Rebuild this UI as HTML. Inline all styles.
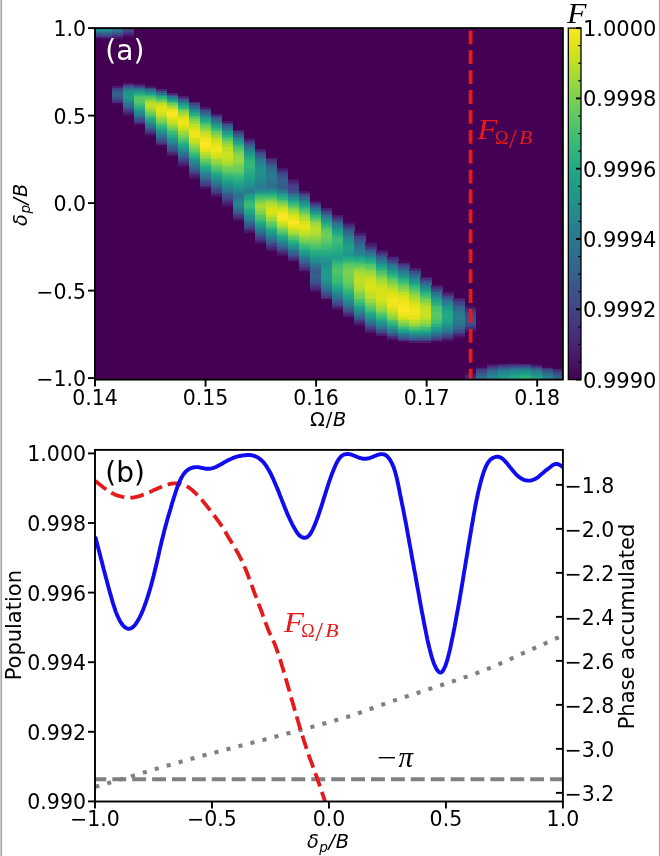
<!DOCTYPE html><html><head><meta charset="utf-8"><title>Figure</title><style>html,body{margin:0;padding:0;background:#fff}svg{display:block}</style></head><body><svg width="660" height="856" viewBox="0 0 660 856"><rect x="95.0" y="28.1" width="467.90" height="351.50" fill="#440154"/>
<g shape-rendering="crispEdges">
<rect x="95.00" y="28.10" width="5.82" height="1.95" fill="#1f958b"/>
<rect x="95.00" y="29.85" width="5.82" height="1.95" fill="#24868e"/>
<rect x="95.00" y="31.60" width="5.82" height="1.95" fill="#2c738e"/>
<rect x="95.00" y="33.35" width="5.82" height="1.95" fill="#375a8c"/>
<rect x="95.00" y="35.10" width="5.82" height="1.95" fill="#433e85"/>
<rect x="95.00" y="36.85" width="5.82" height="1.95" fill="#471063"/>
<rect x="100.52" y="28.10" width="11.33" height="1.95" fill="#21918c"/>
<rect x="100.52" y="29.85" width="11.33" height="1.95" fill="#24868e"/>
<rect x="100.52" y="31.60" width="11.33" height="1.95" fill="#2c738e"/>
<rect x="100.52" y="33.35" width="11.33" height="1.95" fill="#355f8d"/>
<rect x="100.52" y="35.10" width="11.33" height="1.95" fill="#414487"/>
<rect x="100.52" y="36.85" width="11.33" height="1.95" fill="#481d6f"/>
<rect x="111.55" y="28.10" width="11.33" height="1.95" fill="#2a788e"/>
<rect x="111.55" y="29.85" width="11.33" height="1.95" fill="#2e6f8e"/>
<rect x="111.55" y="31.60" width="11.33" height="1.95" fill="#355f8d"/>
<rect x="111.55" y="33.35" width="11.33" height="1.95" fill="#3c4f8a"/>
<rect x="111.55" y="35.10" width="11.33" height="1.95" fill="#46307e"/>
<rect x="111.55" y="36.85" width="11.33" height="1.95" fill="#481769"/>
<rect x="111.55" y="85.85" width="11.33" height="1.95" fill="#481d6f"/>
<rect x="111.55" y="87.60" width="11.33" height="1.95" fill="#453781"/>
<rect x="111.55" y="89.35" width="11.33" height="1.95" fill="#3e4989"/>
<rect x="111.55" y="91.10" width="11.33" height="1.95" fill="#3a548c"/>
<rect x="111.55" y="92.85" width="11.33" height="3.70" fill="#355f8d"/>
<rect x="111.55" y="96.35" width="11.33" height="1.95" fill="#3a548c"/>
<rect x="111.55" y="98.10" width="11.33" height="1.95" fill="#3e4989"/>
<rect x="111.55" y="99.85" width="11.33" height="1.95" fill="#453781"/>
<rect x="111.55" y="101.60" width="11.33" height="1.95" fill="#482475"/>
<rect x="111.55" y="103.35" width="11.33" height="1.95" fill="#46085c"/>
<rect x="122.58" y="28.10" width="11.33" height="1.95" fill="#3e4989"/>
<rect x="122.58" y="29.85" width="11.33" height="1.95" fill="#414487"/>
<rect x="122.58" y="31.60" width="11.33" height="1.95" fill="#453781"/>
<rect x="122.58" y="33.35" width="11.33" height="1.95" fill="#482475"/>
<rect x="122.58" y="35.10" width="11.33" height="1.95" fill="#471063"/>
<rect x="122.58" y="82.35" width="11.33" height="1.95" fill="#46085c"/>
<rect x="122.58" y="84.10" width="11.33" height="1.95" fill="#453781"/>
<rect x="122.58" y="85.85" width="11.33" height="1.95" fill="#375a8c"/>
<rect x="122.58" y="87.60" width="11.33" height="1.95" fill="#2e6f8e"/>
<rect x="122.58" y="89.35" width="11.33" height="1.95" fill="#26828e"/>
<rect x="122.58" y="91.10" width="11.33" height="1.95" fill="#21918c"/>
<rect x="122.58" y="92.85" width="11.33" height="5.45" fill="#1f9a8a"/>
<rect x="122.58" y="98.10" width="11.33" height="1.95" fill="#1f958b"/>
<rect x="122.58" y="99.85" width="11.33" height="1.95" fill="#228b8d"/>
<rect x="122.58" y="101.60" width="11.33" height="1.95" fill="#26828e"/>
<rect x="122.58" y="103.35" width="11.33" height="1.95" fill="#2c738e"/>
<rect x="122.58" y="105.10" width="11.33" height="1.95" fill="#306a8e"/>
<rect x="122.58" y="106.85" width="11.33" height="1.95" fill="#375a8c"/>
<rect x="122.58" y="108.60" width="11.33" height="1.95" fill="#3e4989"/>
<rect x="122.58" y="110.35" width="11.33" height="1.95" fill="#453781"/>
<rect x="122.58" y="112.10" width="11.33" height="1.95" fill="#482475"/>
<rect x="122.58" y="113.85" width="11.33" height="1.95" fill="#471063"/>
<rect x="133.60" y="84.10" width="11.33" height="1.95" fill="#481d6f"/>
<rect x="133.60" y="85.85" width="11.33" height="1.95" fill="#3e4989"/>
<rect x="133.60" y="87.60" width="11.33" height="1.95" fill="#306a8e"/>
<rect x="133.60" y="89.35" width="11.33" height="1.95" fill="#26828e"/>
<rect x="133.60" y="91.10" width="11.33" height="1.95" fill="#1f9a8a"/>
<rect x="133.60" y="92.85" width="11.33" height="1.95" fill="#26ad81"/>
<rect x="133.60" y="94.60" width="11.33" height="1.95" fill="#3bbb75"/>
<rect x="133.60" y="96.35" width="11.33" height="1.95" fill="#4ec36b"/>
<rect x="133.60" y="98.10" width="11.33" height="5.45" fill="#58c765"/>
<rect x="133.60" y="103.35" width="11.33" height="1.95" fill="#44bf70"/>
<rect x="133.60" y="105.10" width="11.33" height="1.95" fill="#32b67a"/>
<rect x="133.60" y="106.85" width="11.33" height="1.95" fill="#26ad81"/>
<rect x="133.60" y="108.60" width="11.33" height="1.95" fill="#20a386"/>
<rect x="133.60" y="110.35" width="11.33" height="1.95" fill="#1f958b"/>
<rect x="133.60" y="112.10" width="11.33" height="1.95" fill="#228b8d"/>
<rect x="133.60" y="113.85" width="11.33" height="1.95" fill="#287d8e"/>
<rect x="133.60" y="115.60" width="11.33" height="1.95" fill="#2e6f8e"/>
<rect x="133.60" y="117.35" width="11.33" height="1.95" fill="#355f8d"/>
<rect x="133.60" y="119.10" width="11.33" height="1.95" fill="#3e4989"/>
<rect x="133.60" y="120.85" width="11.33" height="1.95" fill="#453781"/>
<rect x="133.60" y="122.60" width="11.33" height="1.95" fill="#481d6f"/>
<rect x="133.60" y="124.35" width="11.33" height="1.95" fill="#46085c"/>
<rect x="144.63" y="85.85" width="11.33" height="1.95" fill="#481769"/>
<rect x="144.63" y="87.60" width="11.33" height="1.95" fill="#414487"/>
<rect x="144.63" y="89.35" width="11.33" height="1.95" fill="#306a8e"/>
<rect x="144.63" y="91.10" width="11.33" height="1.95" fill="#24868e"/>
<rect x="144.63" y="92.85" width="11.33" height="1.95" fill="#1f9f88"/>
<rect x="144.63" y="94.60" width="11.33" height="1.95" fill="#32b67a"/>
<rect x="144.63" y="96.35" width="11.33" height="1.95" fill="#4ec36b"/>
<rect x="144.63" y="98.10" width="11.33" height="1.95" fill="#6ece58"/>
<rect x="144.63" y="99.85" width="11.33" height="1.95" fill="#95d840"/>
<rect x="144.63" y="101.60" width="11.33" height="1.95" fill="#b0dd2f"/>
<rect x="144.63" y="103.35" width="11.33" height="3.70" fill="#bddf26"/>
<rect x="144.63" y="106.85" width="11.33" height="1.95" fill="#b0dd2f"/>
<rect x="144.63" y="108.60" width="11.33" height="1.95" fill="#a2da37"/>
<rect x="144.63" y="110.35" width="11.33" height="1.95" fill="#86d549"/>
<rect x="144.63" y="112.10" width="11.33" height="1.95" fill="#6ece58"/>
<rect x="144.63" y="113.85" width="11.33" height="1.95" fill="#58c765"/>
<rect x="144.63" y="115.60" width="11.33" height="1.95" fill="#44bf70"/>
<rect x="144.63" y="117.35" width="11.33" height="1.95" fill="#2cb17e"/>
<rect x="144.63" y="119.10" width="11.33" height="1.95" fill="#22a884"/>
<rect x="144.63" y="120.85" width="11.33" height="1.95" fill="#1f9a8a"/>
<rect x="144.63" y="122.60" width="11.33" height="1.95" fill="#228b8d"/>
<rect x="144.63" y="124.35" width="11.33" height="1.95" fill="#287d8e"/>
<rect x="144.63" y="126.10" width="11.33" height="1.95" fill="#2e6f8e"/>
<rect x="144.63" y="127.85" width="11.33" height="1.95" fill="#375a8c"/>
<rect x="144.63" y="129.60" width="11.33" height="1.95" fill="#3e4989"/>
<rect x="144.63" y="131.35" width="11.33" height="1.95" fill="#453781"/>
<rect x="144.63" y="133.10" width="11.33" height="1.95" fill="#481d6f"/>
<rect x="144.63" y="134.85" width="11.33" height="1.95" fill="#46085c"/>
<rect x="155.66" y="89.35" width="11.33" height="1.95" fill="#482475"/>
<rect x="155.66" y="91.10" width="11.33" height="1.95" fill="#3a548c"/>
<rect x="155.66" y="92.85" width="11.33" height="1.95" fill="#2c738e"/>
<rect x="155.66" y="94.60" width="11.33" height="1.95" fill="#21918c"/>
<rect x="155.66" y="96.35" width="11.33" height="1.95" fill="#26ad81"/>
<rect x="155.66" y="98.10" width="11.33" height="1.95" fill="#44bf70"/>
<rect x="155.66" y="99.85" width="11.33" height="1.95" fill="#6ece58"/>
<rect x="155.66" y="101.60" width="11.33" height="1.95" fill="#95d840"/>
<rect x="155.66" y="103.35" width="11.33" height="1.95" fill="#bddf26"/>
<rect x="155.66" y="105.10" width="11.33" height="1.95" fill="#d8e219"/>
<rect x="155.66" y="106.85" width="11.33" height="5.45" fill="#e5e419"/>
<rect x="155.66" y="112.10" width="11.33" height="1.95" fill="#d8e219"/>
<rect x="155.66" y="113.85" width="11.33" height="1.95" fill="#cae11f"/>
<rect x="155.66" y="115.60" width="11.33" height="1.95" fill="#b0dd2f"/>
<rect x="155.66" y="117.35" width="11.33" height="1.95" fill="#a2da37"/>
<rect x="155.66" y="119.10" width="11.33" height="1.95" fill="#86d549"/>
<rect x="155.66" y="120.85" width="11.33" height="1.95" fill="#6ece58"/>
<rect x="155.66" y="122.60" width="11.33" height="1.95" fill="#58c765"/>
<rect x="155.66" y="124.35" width="11.33" height="1.95" fill="#44bf70"/>
<rect x="155.66" y="126.10" width="11.33" height="1.95" fill="#2cb17e"/>
<rect x="155.66" y="127.85" width="11.33" height="1.95" fill="#22a884"/>
<rect x="155.66" y="129.60" width="11.33" height="1.95" fill="#1f9a8a"/>
<rect x="155.66" y="131.35" width="11.33" height="1.95" fill="#21918c"/>
<rect x="155.66" y="133.10" width="11.33" height="1.95" fill="#26828e"/>
<rect x="155.66" y="134.85" width="11.33" height="1.95" fill="#2c738e"/>
<rect x="155.66" y="136.60" width="11.33" height="1.95" fill="#306a8e"/>
<rect x="155.66" y="138.35" width="11.33" height="1.95" fill="#375a8c"/>
<rect x="155.66" y="140.10" width="11.33" height="1.95" fill="#3e4989"/>
<rect x="155.66" y="141.85" width="11.33" height="1.95" fill="#453781"/>
<rect x="155.66" y="143.60" width="11.33" height="1.95" fill="#482475"/>
<rect x="155.66" y="145.35" width="11.33" height="1.95" fill="#46085c"/>
<rect x="166.69" y="92.85" width="11.33" height="1.95" fill="#482475"/>
<rect x="166.69" y="94.60" width="11.33" height="1.95" fill="#3c4f8a"/>
<rect x="166.69" y="96.35" width="11.33" height="1.95" fill="#2c738e"/>
<rect x="166.69" y="98.10" width="11.33" height="1.95" fill="#21918c"/>
<rect x="166.69" y="99.85" width="11.33" height="1.95" fill="#22a884"/>
<rect x="166.69" y="101.60" width="11.33" height="1.95" fill="#44bf70"/>
<rect x="166.69" y="103.35" width="11.33" height="1.95" fill="#6ece58"/>
<rect x="166.69" y="105.10" width="11.33" height="1.95" fill="#95d840"/>
<rect x="166.69" y="106.85" width="11.33" height="1.95" fill="#bddf26"/>
<rect x="166.69" y="108.60" width="11.33" height="1.95" fill="#d8e219"/>
<rect x="166.69" y="110.35" width="11.33" height="1.95" fill="#f1e51d"/>
<rect x="166.69" y="112.10" width="11.33" height="3.70" fill="#fde725"/>
<rect x="166.69" y="115.60" width="11.33" height="1.95" fill="#f1e51d"/>
<rect x="166.69" y="117.35" width="11.33" height="1.95" fill="#e5e419"/>
<rect x="166.69" y="119.10" width="11.33" height="1.95" fill="#d8e219"/>
<rect x="166.69" y="120.85" width="11.33" height="1.95" fill="#cae11f"/>
<rect x="166.69" y="122.60" width="11.33" height="1.95" fill="#b0dd2f"/>
<rect x="166.69" y="124.35" width="11.33" height="1.95" fill="#a2da37"/>
<rect x="166.69" y="126.10" width="11.33" height="1.95" fill="#86d549"/>
<rect x="166.69" y="127.85" width="11.33" height="1.95" fill="#6ece58"/>
<rect x="166.69" y="129.60" width="11.33" height="1.95" fill="#58c765"/>
<rect x="166.69" y="131.35" width="11.33" height="1.95" fill="#44bf70"/>
<rect x="166.69" y="133.10" width="11.33" height="1.95" fill="#32b67a"/>
<rect x="166.69" y="134.85" width="11.33" height="1.95" fill="#26ad81"/>
<rect x="166.69" y="136.60" width="11.33" height="1.95" fill="#20a386"/>
<rect x="166.69" y="138.35" width="11.33" height="1.95" fill="#1f9a8a"/>
<rect x="166.69" y="140.10" width="11.33" height="1.95" fill="#228b8d"/>
<rect x="166.69" y="141.85" width="11.33" height="1.95" fill="#26828e"/>
<rect x="166.69" y="143.60" width="11.33" height="1.95" fill="#2c738e"/>
<rect x="166.69" y="145.35" width="11.33" height="1.95" fill="#306a8e"/>
<rect x="166.69" y="147.10" width="11.33" height="1.95" fill="#375a8c"/>
<rect x="166.69" y="148.85" width="11.33" height="1.95" fill="#3c4f8a"/>
<rect x="166.69" y="150.60" width="11.33" height="1.95" fill="#433e85"/>
<rect x="166.69" y="152.35" width="11.33" height="1.95" fill="#472a7a"/>
<rect x="166.69" y="154.10" width="11.33" height="1.95" fill="#481769"/>
<rect x="177.72" y="96.35" width="11.33" height="1.95" fill="#481d6f"/>
<rect x="177.72" y="98.10" width="11.33" height="1.95" fill="#414487"/>
<rect x="177.72" y="99.85" width="11.33" height="1.95" fill="#32648e"/>
<rect x="177.72" y="101.60" width="11.33" height="1.95" fill="#287d8e"/>
<rect x="177.72" y="103.35" width="11.33" height="1.95" fill="#21918c"/>
<rect x="177.72" y="105.10" width="11.33" height="1.95" fill="#22a884"/>
<rect x="177.72" y="106.85" width="11.33" height="1.95" fill="#32b67a"/>
<rect x="177.72" y="108.60" width="11.33" height="1.95" fill="#58c765"/>
<rect x="177.72" y="110.35" width="11.33" height="1.95" fill="#7ad151"/>
<rect x="177.72" y="112.10" width="11.33" height="1.95" fill="#95d840"/>
<rect x="177.72" y="113.85" width="11.33" height="1.95" fill="#b0dd2f"/>
<rect x="177.72" y="115.60" width="11.33" height="1.95" fill="#cae11f"/>
<rect x="177.72" y="117.35" width="11.33" height="1.95" fill="#d8e219"/>
<rect x="177.72" y="119.10" width="11.33" height="1.95" fill="#e5e419"/>
<rect x="177.72" y="120.85" width="11.33" height="3.70" fill="#f1e51d"/>
<rect x="177.72" y="124.35" width="11.33" height="1.95" fill="#e5e419"/>
<rect x="177.72" y="126.10" width="11.33" height="1.95" fill="#d8e219"/>
<rect x="177.72" y="127.85" width="11.33" height="1.95" fill="#cae11f"/>
<rect x="177.72" y="129.60" width="11.33" height="1.95" fill="#bddf26"/>
<rect x="177.72" y="131.35" width="11.33" height="1.95" fill="#a2da37"/>
<rect x="177.72" y="133.10" width="11.33" height="1.95" fill="#95d840"/>
<rect x="177.72" y="134.85" width="11.33" height="1.95" fill="#7ad151"/>
<rect x="177.72" y="136.60" width="11.33" height="1.95" fill="#6ece58"/>
<rect x="177.72" y="138.35" width="11.33" height="1.95" fill="#58c765"/>
<rect x="177.72" y="140.10" width="11.33" height="1.95" fill="#44bf70"/>
<rect x="177.72" y="141.85" width="11.33" height="1.95" fill="#32b67a"/>
<rect x="177.72" y="143.60" width="11.33" height="1.95" fill="#26ad81"/>
<rect x="177.72" y="145.35" width="11.33" height="1.95" fill="#20a386"/>
<rect x="177.72" y="147.10" width="11.33" height="1.95" fill="#1f9a8a"/>
<rect x="177.72" y="148.85" width="11.33" height="1.95" fill="#228b8d"/>
<rect x="177.72" y="150.60" width="11.33" height="1.95" fill="#26828e"/>
<rect x="177.72" y="152.35" width="11.33" height="1.95" fill="#2a788e"/>
<rect x="177.72" y="154.10" width="11.33" height="1.95" fill="#306a8e"/>
<rect x="177.72" y="155.85" width="11.33" height="1.95" fill="#355f8d"/>
<rect x="177.72" y="157.60" width="11.33" height="1.95" fill="#3c4f8a"/>
<rect x="177.72" y="159.35" width="11.33" height="1.95" fill="#414487"/>
<rect x="177.72" y="161.10" width="11.33" height="1.95" fill="#46307e"/>
<rect x="177.72" y="162.85" width="11.33" height="1.95" fill="#482475"/>
<rect x="177.72" y="164.60" width="11.33" height="1.95" fill="#471063"/>
<rect x="188.75" y="101.60" width="11.33" height="1.95" fill="#482475"/>
<rect x="188.75" y="103.35" width="11.33" height="1.95" fill="#414487"/>
<rect x="188.75" y="105.10" width="11.33" height="1.95" fill="#375a8c"/>
<rect x="188.75" y="106.85" width="11.33" height="1.95" fill="#2e6f8e"/>
<rect x="188.75" y="108.60" width="11.33" height="1.95" fill="#26828e"/>
<rect x="188.75" y="110.35" width="11.33" height="1.95" fill="#21918c"/>
<rect x="188.75" y="112.10" width="11.33" height="1.95" fill="#20a386"/>
<rect x="188.75" y="113.85" width="11.33" height="1.95" fill="#2cb17e"/>
<rect x="188.75" y="115.60" width="11.33" height="1.95" fill="#44bf70"/>
<rect x="188.75" y="117.35" width="11.33" height="1.95" fill="#58c765"/>
<rect x="188.75" y="119.10" width="11.33" height="1.95" fill="#7ad151"/>
<rect x="188.75" y="120.85" width="11.33" height="1.95" fill="#95d840"/>
<rect x="188.75" y="122.60" width="11.33" height="1.95" fill="#a2da37"/>
<rect x="188.75" y="124.35" width="11.33" height="1.95" fill="#bddf26"/>
<rect x="188.75" y="126.10" width="11.33" height="1.95" fill="#cae11f"/>
<rect x="188.75" y="127.85" width="11.33" height="1.95" fill="#d8e219"/>
<rect x="188.75" y="129.60" width="11.33" height="1.95" fill="#e5e419"/>
<rect x="188.75" y="131.35" width="11.33" height="5.45" fill="#f1e51d"/>
<rect x="188.75" y="136.60" width="11.33" height="1.95" fill="#e5e419"/>
<rect x="188.75" y="138.35" width="11.33" height="1.95" fill="#d8e219"/>
<rect x="188.75" y="140.10" width="11.33" height="1.95" fill="#cae11f"/>
<rect x="188.75" y="141.85" width="11.33" height="1.95" fill="#bddf26"/>
<rect x="188.75" y="143.60" width="11.33" height="1.95" fill="#a2da37"/>
<rect x="188.75" y="145.35" width="11.33" height="1.95" fill="#95d840"/>
<rect x="188.75" y="147.10" width="11.33" height="1.95" fill="#7ad151"/>
<rect x="188.75" y="148.85" width="11.33" height="1.95" fill="#63cb5f"/>
<rect x="188.75" y="150.60" width="11.33" height="1.95" fill="#58c765"/>
<rect x="188.75" y="152.35" width="11.33" height="1.95" fill="#44bf70"/>
<rect x="188.75" y="154.10" width="11.33" height="1.95" fill="#32b67a"/>
<rect x="188.75" y="155.85" width="11.33" height="1.95" fill="#26ad81"/>
<rect x="188.75" y="157.60" width="11.33" height="1.95" fill="#20a386"/>
<rect x="188.75" y="159.35" width="11.33" height="1.95" fill="#1f958b"/>
<rect x="188.75" y="161.10" width="11.33" height="1.95" fill="#228b8d"/>
<rect x="188.75" y="162.85" width="11.33" height="1.95" fill="#26828e"/>
<rect x="188.75" y="164.60" width="11.33" height="1.95" fill="#2a788e"/>
<rect x="188.75" y="166.35" width="11.33" height="1.95" fill="#306a8e"/>
<rect x="188.75" y="168.10" width="11.33" height="1.95" fill="#355f8d"/>
<rect x="188.75" y="169.85" width="11.33" height="1.95" fill="#3c4f8a"/>
<rect x="188.75" y="171.60" width="11.33" height="1.95" fill="#414487"/>
<rect x="188.75" y="173.35" width="11.33" height="1.95" fill="#46307e"/>
<rect x="188.75" y="175.10" width="11.33" height="1.95" fill="#481d6f"/>
<rect x="188.75" y="176.85" width="11.33" height="1.95" fill="#471063"/>
<rect x="199.78" y="106.85" width="11.33" height="1.95" fill="#481769"/>
<rect x="199.78" y="108.60" width="11.33" height="1.95" fill="#46307e"/>
<rect x="199.78" y="110.35" width="11.33" height="1.95" fill="#3c4f8a"/>
<rect x="199.78" y="112.10" width="11.33" height="1.95" fill="#355f8d"/>
<rect x="199.78" y="113.85" width="11.33" height="1.95" fill="#2c738e"/>
<rect x="199.78" y="115.60" width="11.33" height="1.95" fill="#24868e"/>
<rect x="199.78" y="117.35" width="11.33" height="1.95" fill="#1f958b"/>
<rect x="199.78" y="119.10" width="11.33" height="1.95" fill="#20a386"/>
<rect x="199.78" y="120.85" width="11.33" height="1.95" fill="#2cb17e"/>
<rect x="199.78" y="122.60" width="11.33" height="1.95" fill="#3bbb75"/>
<rect x="199.78" y="124.35" width="11.33" height="1.95" fill="#58c765"/>
<rect x="199.78" y="126.10" width="11.33" height="1.95" fill="#6ece58"/>
<rect x="199.78" y="127.85" width="11.33" height="1.95" fill="#86d549"/>
<rect x="199.78" y="129.60" width="11.33" height="1.95" fill="#a2da37"/>
<rect x="199.78" y="131.35" width="11.33" height="1.95" fill="#b0dd2f"/>
<rect x="199.78" y="133.10" width="11.33" height="1.95" fill="#cae11f"/>
<rect x="199.78" y="134.85" width="11.33" height="1.95" fill="#d8e219"/>
<rect x="199.78" y="136.60" width="11.33" height="1.95" fill="#e5e419"/>
<rect x="199.78" y="138.35" width="11.33" height="3.70" fill="#f1e51d"/>
<rect x="199.78" y="141.85" width="11.33" height="5.45" fill="#fde725"/>
<rect x="199.78" y="147.10" width="11.33" height="1.95" fill="#f1e51d"/>
<rect x="199.78" y="148.85" width="11.33" height="1.95" fill="#e5e419"/>
<rect x="199.78" y="150.60" width="11.33" height="1.95" fill="#d8e219"/>
<rect x="199.78" y="152.35" width="11.33" height="1.95" fill="#bddf26"/>
<rect x="199.78" y="154.10" width="11.33" height="1.95" fill="#b0dd2f"/>
<rect x="199.78" y="155.85" width="11.33" height="1.95" fill="#95d840"/>
<rect x="199.78" y="157.60" width="11.33" height="1.95" fill="#86d549"/>
<rect x="199.78" y="159.35" width="11.33" height="1.95" fill="#6ece58"/>
<rect x="199.78" y="161.10" width="11.33" height="1.95" fill="#58c765"/>
<rect x="199.78" y="162.85" width="11.33" height="1.95" fill="#44bf70"/>
<rect x="199.78" y="164.60" width="11.33" height="1.95" fill="#32b67a"/>
<rect x="199.78" y="166.35" width="11.33" height="1.95" fill="#26ad81"/>
<rect x="199.78" y="168.10" width="11.33" height="1.95" fill="#20a386"/>
<rect x="199.78" y="169.85" width="11.33" height="1.95" fill="#1f9a8a"/>
<rect x="199.78" y="171.60" width="11.33" height="1.95" fill="#21918c"/>
<rect x="199.78" y="173.35" width="11.33" height="1.95" fill="#26828e"/>
<rect x="199.78" y="175.10" width="11.33" height="1.95" fill="#2a788e"/>
<rect x="199.78" y="176.85" width="11.33" height="1.95" fill="#2e6f8e"/>
<rect x="199.78" y="178.60" width="11.33" height="1.95" fill="#355f8d"/>
<rect x="199.78" y="180.35" width="11.33" height="1.95" fill="#3a548c"/>
<rect x="199.78" y="182.10" width="11.33" height="1.95" fill="#414487"/>
<rect x="199.78" y="183.85" width="11.33" height="1.95" fill="#453781"/>
<rect x="199.78" y="185.60" width="11.33" height="1.95" fill="#482475"/>
<rect x="199.78" y="187.35" width="11.33" height="1.95" fill="#471063"/>
<rect x="210.81" y="113.85" width="11.33" height="1.95" fill="#481d6f"/>
<rect x="210.81" y="115.60" width="11.33" height="1.95" fill="#433e85"/>
<rect x="210.81" y="117.35" width="11.33" height="1.95" fill="#3a548c"/>
<rect x="210.81" y="119.10" width="11.33" height="1.95" fill="#306a8e"/>
<rect x="210.81" y="120.85" width="11.33" height="1.95" fill="#2a788e"/>
<rect x="210.81" y="122.60" width="11.33" height="1.95" fill="#228b8d"/>
<rect x="210.81" y="124.35" width="11.33" height="1.95" fill="#1f9a8a"/>
<rect x="210.81" y="126.10" width="11.33" height="1.95" fill="#22a884"/>
<rect x="210.81" y="127.85" width="11.33" height="1.95" fill="#32b67a"/>
<rect x="210.81" y="129.60" width="11.33" height="1.95" fill="#44bf70"/>
<rect x="210.81" y="131.35" width="11.33" height="1.95" fill="#63cb5f"/>
<rect x="210.81" y="133.10" width="11.33" height="1.95" fill="#7ad151"/>
<rect x="210.81" y="134.85" width="11.33" height="1.95" fill="#95d840"/>
<rect x="210.81" y="136.60" width="11.33" height="1.95" fill="#a2da37"/>
<rect x="210.81" y="138.35" width="11.33" height="1.95" fill="#bddf26"/>
<rect x="210.81" y="140.10" width="11.33" height="1.95" fill="#cae11f"/>
<rect x="210.81" y="141.85" width="11.33" height="1.95" fill="#d8e219"/>
<rect x="210.81" y="143.60" width="11.33" height="3.70" fill="#e5e419"/>
<rect x="210.81" y="147.10" width="11.33" height="5.45" fill="#f1e51d"/>
<rect x="210.81" y="152.35" width="11.33" height="1.95" fill="#e5e419"/>
<rect x="210.81" y="154.10" width="11.33" height="1.95" fill="#d8e219"/>
<rect x="210.81" y="155.85" width="11.33" height="1.95" fill="#cae11f"/>
<rect x="210.81" y="157.60" width="11.33" height="1.95" fill="#bddf26"/>
<rect x="210.81" y="159.35" width="11.33" height="1.95" fill="#a2da37"/>
<rect x="210.81" y="161.10" width="11.33" height="1.95" fill="#95d840"/>
<rect x="210.81" y="162.85" width="11.33" height="1.95" fill="#86d549"/>
<rect x="210.81" y="164.60" width="11.33" height="1.95" fill="#6ece58"/>
<rect x="210.81" y="166.35" width="11.33" height="1.95" fill="#58c765"/>
<rect x="210.81" y="168.10" width="11.33" height="1.95" fill="#4ec36b"/>
<rect x="210.81" y="169.85" width="11.33" height="1.95" fill="#3bbb75"/>
<rect x="210.81" y="171.60" width="11.33" height="1.95" fill="#2cb17e"/>
<rect x="210.81" y="173.35" width="11.33" height="1.95" fill="#22a884"/>
<rect x="210.81" y="175.10" width="11.33" height="1.95" fill="#1f9f88"/>
<rect x="210.81" y="176.85" width="11.33" height="1.95" fill="#1f958b"/>
<rect x="210.81" y="178.60" width="11.33" height="1.95" fill="#228b8d"/>
<rect x="210.81" y="180.35" width="11.33" height="1.95" fill="#26828e"/>
<rect x="210.81" y="182.10" width="11.33" height="1.95" fill="#2a788e"/>
<rect x="210.81" y="183.85" width="11.33" height="1.95" fill="#2e6f8e"/>
<rect x="210.81" y="185.60" width="11.33" height="1.95" fill="#32648e"/>
<rect x="210.81" y="187.35" width="11.33" height="1.95" fill="#3a548c"/>
<rect x="210.81" y="189.10" width="11.33" height="1.95" fill="#3e4989"/>
<rect x="210.81" y="190.85" width="11.33" height="1.95" fill="#433e85"/>
<rect x="210.81" y="192.60" width="11.33" height="1.95" fill="#472a7a"/>
<rect x="210.81" y="194.35" width="11.33" height="1.95" fill="#481d6f"/>
<rect x="210.81" y="196.10" width="11.33" height="1.95" fill="#46085c"/>
<rect x="221.84" y="120.85" width="11.33" height="1.95" fill="#481769"/>
<rect x="221.84" y="122.60" width="11.33" height="1.95" fill="#46307e"/>
<rect x="221.84" y="124.35" width="11.33" height="1.95" fill="#3c4f8a"/>
<rect x="221.84" y="126.10" width="11.33" height="1.95" fill="#32648e"/>
<rect x="221.84" y="127.85" width="11.33" height="1.95" fill="#2c738e"/>
<rect x="221.84" y="129.60" width="11.33" height="1.95" fill="#24868e"/>
<rect x="221.84" y="131.35" width="11.33" height="1.95" fill="#1f958b"/>
<rect x="221.84" y="133.10" width="11.33" height="1.95" fill="#20a386"/>
<rect x="221.84" y="134.85" width="11.33" height="1.95" fill="#2cb17e"/>
<rect x="221.84" y="136.60" width="11.33" height="1.95" fill="#3bbb75"/>
<rect x="221.84" y="138.35" width="11.33" height="1.95" fill="#58c765"/>
<rect x="221.84" y="140.10" width="11.33" height="1.95" fill="#6ece58"/>
<rect x="221.84" y="141.85" width="11.33" height="1.95" fill="#86d549"/>
<rect x="221.84" y="143.60" width="11.33" height="1.95" fill="#95d840"/>
<rect x="221.84" y="145.35" width="11.33" height="1.95" fill="#a2da37"/>
<rect x="221.84" y="147.10" width="11.33" height="3.70" fill="#bddf26"/>
<rect x="221.84" y="150.60" width="11.33" height="7.20" fill="#cae11f"/>
<rect x="221.84" y="157.60" width="11.33" height="3.70" fill="#bddf26"/>
<rect x="221.84" y="161.10" width="11.33" height="1.95" fill="#b0dd2f"/>
<rect x="221.84" y="162.85" width="11.33" height="1.95" fill="#a2da37"/>
<rect x="221.84" y="164.60" width="11.33" height="1.95" fill="#95d840"/>
<rect x="221.84" y="166.35" width="11.33" height="1.95" fill="#7ad151"/>
<rect x="221.84" y="168.10" width="11.33" height="1.95" fill="#6ece58"/>
<rect x="221.84" y="169.85" width="11.33" height="1.95" fill="#63cb5f"/>
<rect x="221.84" y="171.60" width="11.33" height="1.95" fill="#4ec36b"/>
<rect x="221.84" y="173.35" width="11.33" height="1.95" fill="#44bf70"/>
<rect x="221.84" y="175.10" width="11.33" height="1.95" fill="#32b67a"/>
<rect x="221.84" y="176.85" width="11.33" height="1.95" fill="#2cb17e"/>
<rect x="221.84" y="178.60" width="11.33" height="1.95" fill="#22a884"/>
<rect x="221.84" y="180.35" width="11.33" height="1.95" fill="#20a386"/>
<rect x="221.84" y="182.10" width="11.33" height="1.95" fill="#1f9a8a"/>
<rect x="221.84" y="183.85" width="11.33" height="1.95" fill="#21918c"/>
<rect x="221.84" y="185.60" width="11.33" height="1.95" fill="#24868e"/>
<rect x="221.84" y="187.35" width="11.33" height="1.95" fill="#26828e"/>
<rect x="221.84" y="189.10" width="11.33" height="1.95" fill="#2a788e"/>
<rect x="221.84" y="190.85" width="11.33" height="1.95" fill="#2e6f8e"/>
<rect x="221.84" y="192.60" width="11.33" height="1.95" fill="#32648e"/>
<rect x="221.84" y="194.35" width="11.33" height="1.95" fill="#375a8c"/>
<rect x="221.84" y="196.10" width="11.33" height="1.95" fill="#3c4f8a"/>
<rect x="221.84" y="197.85" width="11.33" height="1.95" fill="#414487"/>
<rect x="221.84" y="199.60" width="11.33" height="1.95" fill="#453781"/>
<rect x="221.84" y="201.35" width="11.33" height="1.95" fill="#472a7a"/>
<rect x="221.84" y="203.10" width="11.33" height="1.95" fill="#481d6f"/>
<rect x="221.84" y="204.85" width="11.33" height="1.95" fill="#471063"/>
<rect x="232.88" y="129.60" width="11.33" height="1.95" fill="#481d6f"/>
<rect x="232.88" y="131.35" width="11.33" height="1.95" fill="#453781"/>
<rect x="232.88" y="133.10" width="11.33" height="1.95" fill="#3c4f8a"/>
<rect x="232.88" y="134.85" width="11.33" height="1.95" fill="#32648e"/>
<rect x="232.88" y="136.60" width="11.33" height="1.95" fill="#2a788e"/>
<rect x="232.88" y="138.35" width="11.33" height="1.95" fill="#24868e"/>
<rect x="232.88" y="140.10" width="11.33" height="1.95" fill="#1f958b"/>
<rect x="232.88" y="141.85" width="11.33" height="1.95" fill="#20a386"/>
<rect x="232.88" y="143.60" width="11.33" height="1.95" fill="#26ad81"/>
<rect x="232.88" y="145.35" width="11.33" height="1.95" fill="#3bbb75"/>
<rect x="232.88" y="147.10" width="11.33" height="1.95" fill="#4ec36b"/>
<rect x="232.88" y="148.85" width="11.33" height="1.95" fill="#58c765"/>
<rect x="232.88" y="150.60" width="11.33" height="1.95" fill="#6ece58"/>
<rect x="232.88" y="152.35" width="11.33" height="1.95" fill="#7ad151"/>
<rect x="232.88" y="154.10" width="11.33" height="1.95" fill="#86d549"/>
<rect x="232.88" y="155.85" width="11.33" height="7.20" fill="#95d840"/>
<rect x="232.88" y="162.85" width="11.33" height="1.95" fill="#86d549"/>
<rect x="232.88" y="164.60" width="11.33" height="1.95" fill="#7ad151"/>
<rect x="232.88" y="166.35" width="11.33" height="3.70" fill="#6ece58"/>
<rect x="232.88" y="169.85" width="11.33" height="1.95" fill="#63cb5f"/>
<rect x="232.88" y="171.60" width="11.33" height="1.95" fill="#58c765"/>
<rect x="232.88" y="173.35" width="11.33" height="1.95" fill="#4ec36b"/>
<rect x="232.88" y="175.10" width="11.33" height="1.95" fill="#3bbb75"/>
<rect x="232.88" y="176.85" width="11.33" height="1.95" fill="#32b67a"/>
<rect x="232.88" y="178.60" width="11.33" height="1.95" fill="#2cb17e"/>
<rect x="232.88" y="180.35" width="11.33" height="1.95" fill="#26ad81"/>
<rect x="232.88" y="182.10" width="11.33" height="1.95" fill="#20a386"/>
<rect x="232.88" y="183.85" width="11.33" height="1.95" fill="#1f9f88"/>
<rect x="232.88" y="185.60" width="11.33" height="1.95" fill="#1f9a8a"/>
<rect x="232.88" y="187.35" width="11.33" height="1.95" fill="#21918c"/>
<rect x="232.88" y="189.10" width="11.33" height="1.95" fill="#228b8d"/>
<rect x="232.88" y="190.85" width="11.33" height="1.95" fill="#26828e"/>
<rect x="232.88" y="192.60" width="11.33" height="1.95" fill="#2a788e"/>
<rect x="232.88" y="194.35" width="11.33" height="1.95" fill="#2c738e"/>
<rect x="232.88" y="196.10" width="11.33" height="1.95" fill="#2e6f8e"/>
<rect x="232.88" y="197.85" width="11.33" height="1.95" fill="#2a788e"/>
<rect x="232.88" y="199.60" width="11.33" height="1.95" fill="#287d8e"/>
<rect x="232.88" y="201.35" width="11.33" height="5.45" fill="#26828e"/>
<rect x="232.88" y="206.60" width="11.33" height="1.95" fill="#2a788e"/>
<rect x="232.88" y="208.35" width="11.33" height="1.95" fill="#2e6f8e"/>
<rect x="232.88" y="210.10" width="11.33" height="1.95" fill="#32648e"/>
<rect x="232.88" y="211.85" width="11.33" height="1.95" fill="#375a8c"/>
<rect x="232.88" y="213.60" width="11.33" height="1.95" fill="#3e4989"/>
<rect x="232.88" y="215.35" width="11.33" height="1.95" fill="#453781"/>
<rect x="232.88" y="217.10" width="11.33" height="1.95" fill="#482475"/>
<rect x="232.88" y="218.85" width="11.33" height="1.95" fill="#471063"/>
<rect x="243.91" y="138.35" width="11.33" height="1.95" fill="#471063"/>
<rect x="243.91" y="140.10" width="11.33" height="1.95" fill="#472a7a"/>
<rect x="243.91" y="141.85" width="11.33" height="1.95" fill="#414487"/>
<rect x="243.91" y="143.60" width="11.33" height="1.95" fill="#3a548c"/>
<rect x="243.91" y="145.35" width="11.33" height="1.95" fill="#32648e"/>
<rect x="243.91" y="147.10" width="11.33" height="1.95" fill="#2c738e"/>
<rect x="243.91" y="148.85" width="11.33" height="1.95" fill="#26828e"/>
<rect x="243.91" y="150.60" width="11.33" height="1.95" fill="#228b8d"/>
<rect x="243.91" y="152.35" width="11.33" height="1.95" fill="#1f958b"/>
<rect x="243.91" y="154.10" width="11.33" height="1.95" fill="#1f9f88"/>
<rect x="243.91" y="155.85" width="11.33" height="1.95" fill="#22a884"/>
<rect x="243.91" y="157.60" width="11.33" height="1.95" fill="#26ad81"/>
<rect x="243.91" y="159.35" width="11.33" height="1.95" fill="#2cb17e"/>
<rect x="243.91" y="161.10" width="11.33" height="7.20" fill="#32b67a"/>
<rect x="243.91" y="168.10" width="11.33" height="3.70" fill="#2cb17e"/>
<rect x="243.91" y="171.60" width="11.33" height="1.95" fill="#26ad81"/>
<rect x="243.91" y="173.35" width="11.33" height="3.70" fill="#22a884"/>
<rect x="243.91" y="176.85" width="11.33" height="1.95" fill="#20a386"/>
<rect x="243.91" y="178.60" width="11.33" height="1.95" fill="#1f9f88"/>
<rect x="243.91" y="180.35" width="11.33" height="1.95" fill="#1f9a8a"/>
<rect x="243.91" y="182.10" width="11.33" height="1.95" fill="#1f958b"/>
<rect x="243.91" y="183.85" width="11.33" height="1.95" fill="#21918c"/>
<rect x="243.91" y="185.60" width="11.33" height="1.95" fill="#228b8d"/>
<rect x="243.91" y="187.35" width="11.33" height="1.95" fill="#24868e"/>
<rect x="243.91" y="189.10" width="11.33" height="1.95" fill="#26828e"/>
<rect x="243.91" y="190.85" width="11.33" height="1.95" fill="#287d8e"/>
<rect x="243.91" y="192.60" width="11.33" height="1.95" fill="#24868e"/>
<rect x="243.91" y="194.35" width="11.33" height="1.95" fill="#1f958b"/>
<rect x="243.91" y="196.10" width="11.33" height="1.95" fill="#1f9f88"/>
<rect x="243.91" y="197.85" width="11.33" height="1.95" fill="#22a884"/>
<rect x="243.91" y="199.60" width="11.33" height="1.95" fill="#2cb17e"/>
<rect x="243.91" y="201.35" width="11.33" height="1.95" fill="#32b67a"/>
<rect x="243.91" y="203.10" width="11.33" height="3.70" fill="#3bbb75"/>
<rect x="243.91" y="206.60" width="11.33" height="1.95" fill="#32b67a"/>
<rect x="243.91" y="208.35" width="11.33" height="1.95" fill="#2cb17e"/>
<rect x="243.91" y="210.10" width="11.33" height="1.95" fill="#22a884"/>
<rect x="243.91" y="211.85" width="11.33" height="1.95" fill="#20a386"/>
<rect x="243.91" y="213.60" width="11.33" height="1.95" fill="#1f9a8a"/>
<rect x="243.91" y="215.35" width="11.33" height="1.95" fill="#21918c"/>
<rect x="243.91" y="217.10" width="11.33" height="1.95" fill="#24868e"/>
<rect x="243.91" y="218.85" width="11.33" height="1.95" fill="#287d8e"/>
<rect x="243.91" y="220.60" width="11.33" height="1.95" fill="#2c738e"/>
<rect x="243.91" y="222.35" width="11.33" height="1.95" fill="#32648e"/>
<rect x="243.91" y="224.10" width="11.33" height="1.95" fill="#375a8c"/>
<rect x="243.91" y="225.85" width="11.33" height="1.95" fill="#3e4989"/>
<rect x="243.91" y="227.60" width="11.33" height="1.95" fill="#433e85"/>
<rect x="243.91" y="229.35" width="11.33" height="1.95" fill="#472a7a"/>
<rect x="243.91" y="231.10" width="11.33" height="1.95" fill="#481769"/>
<rect x="254.94" y="148.85" width="11.33" height="1.95" fill="#481d6f"/>
<rect x="254.94" y="150.60" width="11.33" height="1.95" fill="#46307e"/>
<rect x="254.94" y="152.35" width="11.33" height="1.95" fill="#414487"/>
<rect x="254.94" y="154.10" width="11.33" height="1.95" fill="#3a548c"/>
<rect x="254.94" y="155.85" width="11.33" height="1.95" fill="#355f8d"/>
<rect x="254.94" y="157.60" width="11.33" height="1.95" fill="#2e6f8e"/>
<rect x="254.94" y="159.35" width="11.33" height="1.95" fill="#2a788e"/>
<rect x="254.94" y="161.10" width="11.33" height="1.95" fill="#287d8e"/>
<rect x="254.94" y="162.85" width="11.33" height="1.95" fill="#26828e"/>
<rect x="254.94" y="164.60" width="11.33" height="3.70" fill="#228b8d"/>
<rect x="254.94" y="168.10" width="11.33" height="7.20" fill="#21918c"/>
<rect x="254.94" y="175.10" width="11.33" height="3.70" fill="#228b8d"/>
<rect x="254.94" y="178.60" width="11.33" height="3.70" fill="#24868e"/>
<rect x="254.94" y="182.10" width="11.33" height="1.95" fill="#26828e"/>
<rect x="254.94" y="183.85" width="11.33" height="3.70" fill="#287d8e"/>
<rect x="254.94" y="187.35" width="11.33" height="1.95" fill="#2a788e"/>
<rect x="254.94" y="189.10" width="11.33" height="1.95" fill="#24868e"/>
<rect x="254.94" y="190.85" width="11.33" height="1.95" fill="#1f958b"/>
<rect x="254.94" y="192.60" width="11.33" height="1.95" fill="#20a386"/>
<rect x="254.94" y="194.35" width="11.33" height="1.95" fill="#2cb17e"/>
<rect x="254.94" y="196.10" width="11.33" height="1.95" fill="#44bf70"/>
<rect x="254.94" y="197.85" width="11.33" height="1.95" fill="#58c765"/>
<rect x="254.94" y="199.60" width="11.33" height="1.95" fill="#6ece58"/>
<rect x="254.94" y="201.35" width="11.33" height="1.95" fill="#7ad151"/>
<rect x="254.94" y="203.10" width="11.33" height="1.95" fill="#95d840"/>
<rect x="254.94" y="204.85" width="11.33" height="3.70" fill="#a2da37"/>
<rect x="254.94" y="208.35" width="11.33" height="1.95" fill="#95d840"/>
<rect x="254.94" y="210.10" width="11.33" height="1.95" fill="#86d549"/>
<rect x="254.94" y="211.85" width="11.33" height="1.95" fill="#7ad151"/>
<rect x="254.94" y="213.60" width="11.33" height="1.95" fill="#6ece58"/>
<rect x="254.94" y="215.35" width="11.33" height="1.95" fill="#58c765"/>
<rect x="254.94" y="217.10" width="11.33" height="1.95" fill="#4ec36b"/>
<rect x="254.94" y="218.85" width="11.33" height="1.95" fill="#3bbb75"/>
<rect x="254.94" y="220.60" width="11.33" height="1.95" fill="#2cb17e"/>
<rect x="254.94" y="222.35" width="11.33" height="1.95" fill="#22a884"/>
<rect x="254.94" y="224.10" width="11.33" height="1.95" fill="#1f9f88"/>
<rect x="254.94" y="225.85" width="11.33" height="1.95" fill="#21918c"/>
<rect x="254.94" y="227.60" width="11.33" height="1.95" fill="#24868e"/>
<rect x="254.94" y="229.35" width="11.33" height="1.95" fill="#287d8e"/>
<rect x="254.94" y="231.10" width="11.33" height="1.95" fill="#2e6f8e"/>
<rect x="254.94" y="232.85" width="11.33" height="1.95" fill="#32648e"/>
<rect x="254.94" y="234.60" width="11.33" height="1.95" fill="#3a548c"/>
<rect x="254.94" y="236.35" width="11.33" height="1.95" fill="#3e4989"/>
<rect x="254.94" y="238.10" width="11.33" height="1.95" fill="#453781"/>
<rect x="254.94" y="239.85" width="11.33" height="1.95" fill="#482475"/>
<rect x="254.94" y="241.60" width="11.33" height="1.95" fill="#471063"/>
<rect x="265.97" y="157.60" width="11.33" height="1.95" fill="#481d6f"/>
<rect x="265.97" y="159.35" width="11.33" height="1.95" fill="#46307e"/>
<rect x="265.97" y="161.10" width="11.33" height="1.95" fill="#433e85"/>
<rect x="265.97" y="162.85" width="11.33" height="1.95" fill="#3c4f8a"/>
<rect x="265.97" y="164.60" width="11.33" height="1.95" fill="#375a8c"/>
<rect x="265.97" y="166.35" width="11.33" height="1.95" fill="#32648e"/>
<rect x="265.97" y="168.10" width="11.33" height="1.95" fill="#306a8e"/>
<rect x="265.97" y="169.85" width="11.33" height="3.70" fill="#2c738e"/>
<rect x="265.97" y="173.35" width="11.33" height="7.20" fill="#2a788e"/>
<rect x="265.97" y="180.35" width="11.33" height="3.70" fill="#2c738e"/>
<rect x="265.97" y="183.85" width="11.33" height="3.70" fill="#2e6f8e"/>
<rect x="265.97" y="187.35" width="11.33" height="1.95" fill="#2c738e"/>
<rect x="265.97" y="189.10" width="11.33" height="1.95" fill="#24868e"/>
<rect x="265.97" y="190.85" width="11.33" height="1.95" fill="#1f958b"/>
<rect x="265.97" y="192.60" width="11.33" height="1.95" fill="#20a386"/>
<rect x="265.97" y="194.35" width="11.33" height="1.95" fill="#2cb17e"/>
<rect x="265.97" y="196.10" width="11.33" height="1.95" fill="#44bf70"/>
<rect x="265.97" y="197.85" width="11.33" height="1.95" fill="#63cb5f"/>
<rect x="265.97" y="199.60" width="11.33" height="1.95" fill="#7ad151"/>
<rect x="265.97" y="201.35" width="11.33" height="1.95" fill="#95d840"/>
<rect x="265.97" y="203.10" width="11.33" height="1.95" fill="#b0dd2f"/>
<rect x="265.97" y="204.85" width="11.33" height="1.95" fill="#bddf26"/>
<rect x="265.97" y="206.60" width="11.33" height="1.95" fill="#cae11f"/>
<rect x="265.97" y="208.35" width="11.33" height="5.45" fill="#d8e219"/>
<rect x="265.97" y="213.60" width="11.33" height="1.95" fill="#cae11f"/>
<rect x="265.97" y="215.35" width="11.33" height="1.95" fill="#bddf26"/>
<rect x="265.97" y="217.10" width="11.33" height="1.95" fill="#a2da37"/>
<rect x="265.97" y="218.85" width="11.33" height="1.95" fill="#95d840"/>
<rect x="265.97" y="220.60" width="11.33" height="1.95" fill="#7ad151"/>
<rect x="265.97" y="222.35" width="11.33" height="1.95" fill="#63cb5f"/>
<rect x="265.97" y="224.10" width="11.33" height="1.95" fill="#58c765"/>
<rect x="265.97" y="225.85" width="11.33" height="1.95" fill="#44bf70"/>
<rect x="265.97" y="227.60" width="11.33" height="1.95" fill="#32b67a"/>
<rect x="265.97" y="229.35" width="11.33" height="1.95" fill="#22a884"/>
<rect x="265.97" y="231.10" width="11.33" height="1.95" fill="#1f9f88"/>
<rect x="265.97" y="232.85" width="11.33" height="1.95" fill="#1f958b"/>
<rect x="265.97" y="234.60" width="11.33" height="1.95" fill="#228b8d"/>
<rect x="265.97" y="236.35" width="11.33" height="1.95" fill="#287d8e"/>
<rect x="265.97" y="238.10" width="11.33" height="1.95" fill="#2c738e"/>
<rect x="265.97" y="239.85" width="11.33" height="1.95" fill="#32648e"/>
<rect x="265.97" y="241.60" width="11.33" height="1.95" fill="#375a8c"/>
<rect x="265.97" y="243.35" width="11.33" height="1.95" fill="#3e4989"/>
<rect x="265.97" y="245.10" width="11.33" height="1.95" fill="#453781"/>
<rect x="265.97" y="246.85" width="11.33" height="1.95" fill="#482475"/>
<rect x="265.97" y="248.60" width="11.33" height="1.95" fill="#481769"/>
<rect x="277.00" y="168.10" width="11.33" height="1.95" fill="#481769"/>
<rect x="277.00" y="169.85" width="11.33" height="1.95" fill="#472a7a"/>
<rect x="277.00" y="171.60" width="11.33" height="1.95" fill="#453781"/>
<rect x="277.00" y="173.35" width="11.33" height="1.95" fill="#3e4989"/>
<rect x="277.00" y="175.10" width="11.33" height="1.95" fill="#3c4f8a"/>
<rect x="277.00" y="176.85" width="11.33" height="1.95" fill="#375a8c"/>
<rect x="277.00" y="178.60" width="11.33" height="7.20" fill="#355f8d"/>
<rect x="277.00" y="185.60" width="11.33" height="3.70" fill="#375a8c"/>
<rect x="277.00" y="189.10" width="11.33" height="1.95" fill="#2e6f8e"/>
<rect x="277.00" y="190.85" width="11.33" height="1.95" fill="#287d8e"/>
<rect x="277.00" y="192.60" width="11.33" height="1.95" fill="#21918c"/>
<rect x="277.00" y="194.35" width="11.33" height="1.95" fill="#1f9f88"/>
<rect x="277.00" y="196.10" width="11.33" height="1.95" fill="#26ad81"/>
<rect x="277.00" y="197.85" width="11.33" height="1.95" fill="#32b67a"/>
<rect x="277.00" y="199.60" width="11.33" height="1.95" fill="#4ec36b"/>
<rect x="277.00" y="201.35" width="11.33" height="1.95" fill="#63cb5f"/>
<rect x="277.00" y="203.10" width="11.33" height="1.95" fill="#86d549"/>
<rect x="277.00" y="204.85" width="11.33" height="1.95" fill="#a2da37"/>
<rect x="277.00" y="206.60" width="11.33" height="1.95" fill="#bddf26"/>
<rect x="277.00" y="208.35" width="11.33" height="1.95" fill="#cae11f"/>
<rect x="277.00" y="210.10" width="11.33" height="1.95" fill="#d8e219"/>
<rect x="277.00" y="211.85" width="11.33" height="3.70" fill="#f1e51d"/>
<rect x="277.00" y="215.35" width="11.33" height="3.70" fill="#fde725"/>
<rect x="277.00" y="218.85" width="11.33" height="1.95" fill="#f1e51d"/>
<rect x="277.00" y="220.60" width="11.33" height="1.95" fill="#e5e419"/>
<rect x="277.00" y="222.35" width="11.33" height="1.95" fill="#cae11f"/>
<rect x="277.00" y="224.10" width="11.33" height="1.95" fill="#bddf26"/>
<rect x="277.00" y="225.85" width="11.33" height="1.95" fill="#a2da37"/>
<rect x="277.00" y="227.60" width="11.33" height="1.95" fill="#86d549"/>
<rect x="277.00" y="229.35" width="11.33" height="1.95" fill="#6ece58"/>
<rect x="277.00" y="231.10" width="11.33" height="1.95" fill="#58c765"/>
<rect x="277.00" y="232.85" width="11.33" height="1.95" fill="#44bf70"/>
<rect x="277.00" y="234.60" width="11.33" height="1.95" fill="#2cb17e"/>
<rect x="277.00" y="236.35" width="11.33" height="1.95" fill="#22a884"/>
<rect x="277.00" y="238.10" width="11.33" height="1.95" fill="#1f9f88"/>
<rect x="277.00" y="239.85" width="11.33" height="1.95" fill="#21918c"/>
<rect x="277.00" y="241.60" width="11.33" height="1.95" fill="#26828e"/>
<rect x="277.00" y="243.35" width="11.33" height="1.95" fill="#2a788e"/>
<rect x="277.00" y="245.10" width="11.33" height="1.95" fill="#306a8e"/>
<rect x="277.00" y="246.85" width="11.33" height="1.95" fill="#375a8c"/>
<rect x="277.00" y="248.60" width="11.33" height="1.95" fill="#3e4989"/>
<rect x="277.00" y="250.35" width="11.33" height="1.95" fill="#453781"/>
<rect x="277.00" y="252.10" width="11.33" height="1.95" fill="#482475"/>
<rect x="277.00" y="253.85" width="11.33" height="1.95" fill="#471063"/>
<rect x="288.02" y="178.60" width="11.33" height="1.95" fill="#471063"/>
<rect x="288.02" y="180.35" width="11.33" height="1.95" fill="#481d6f"/>
<rect x="288.02" y="182.10" width="11.33" height="1.95" fill="#472a7a"/>
<rect x="288.02" y="183.85" width="11.33" height="1.95" fill="#453781"/>
<rect x="288.02" y="185.60" width="11.33" height="1.95" fill="#433e85"/>
<rect x="288.02" y="187.35" width="11.33" height="3.70" fill="#414487"/>
<rect x="288.02" y="190.85" width="11.33" height="1.95" fill="#3c4f8a"/>
<rect x="288.02" y="192.60" width="11.33" height="1.95" fill="#32648e"/>
<rect x="288.02" y="194.35" width="11.33" height="1.95" fill="#2c738e"/>
<rect x="288.02" y="196.10" width="11.33" height="1.95" fill="#24868e"/>
<rect x="288.02" y="197.85" width="11.33" height="1.95" fill="#1f958b"/>
<rect x="288.02" y="199.60" width="11.33" height="1.95" fill="#1f9f88"/>
<rect x="288.02" y="201.35" width="11.33" height="1.95" fill="#26ad81"/>
<rect x="288.02" y="203.10" width="11.33" height="1.95" fill="#3bbb75"/>
<rect x="288.02" y="204.85" width="11.33" height="1.95" fill="#4ec36b"/>
<rect x="288.02" y="206.60" width="11.33" height="1.95" fill="#6ece58"/>
<rect x="288.02" y="208.35" width="11.33" height="1.95" fill="#86d549"/>
<rect x="288.02" y="210.10" width="11.33" height="1.95" fill="#a2da37"/>
<rect x="288.02" y="211.85" width="11.33" height="1.95" fill="#b0dd2f"/>
<rect x="288.02" y="213.60" width="11.33" height="1.95" fill="#cae11f"/>
<rect x="288.02" y="215.35" width="11.33" height="1.95" fill="#d8e219"/>
<rect x="288.02" y="217.10" width="11.33" height="1.95" fill="#e5e419"/>
<rect x="288.02" y="218.85" width="11.33" height="1.95" fill="#f1e51d"/>
<rect x="288.02" y="220.60" width="11.33" height="3.70" fill="#fde725"/>
<rect x="288.02" y="224.10" width="11.33" height="1.95" fill="#f1e51d"/>
<rect x="288.02" y="225.85" width="11.33" height="1.95" fill="#e5e419"/>
<rect x="288.02" y="227.60" width="11.33" height="1.95" fill="#d8e219"/>
<rect x="288.02" y="229.35" width="11.33" height="1.95" fill="#bddf26"/>
<rect x="288.02" y="231.10" width="11.33" height="1.95" fill="#b0dd2f"/>
<rect x="288.02" y="232.85" width="11.33" height="1.95" fill="#95d840"/>
<rect x="288.02" y="234.60" width="11.33" height="1.95" fill="#7ad151"/>
<rect x="288.02" y="236.35" width="11.33" height="1.95" fill="#63cb5f"/>
<rect x="288.02" y="238.10" width="11.33" height="1.95" fill="#4ec36b"/>
<rect x="288.02" y="239.85" width="11.33" height="1.95" fill="#32b67a"/>
<rect x="288.02" y="241.60" width="11.33" height="1.95" fill="#26ad81"/>
<rect x="288.02" y="243.35" width="11.33" height="1.95" fill="#20a386"/>
<rect x="288.02" y="245.10" width="11.33" height="1.95" fill="#1f958b"/>
<rect x="288.02" y="246.85" width="11.33" height="1.95" fill="#228b8d"/>
<rect x="288.02" y="248.60" width="11.33" height="1.95" fill="#287d8e"/>
<rect x="288.02" y="250.35" width="11.33" height="1.95" fill="#2e6f8e"/>
<rect x="288.02" y="252.10" width="11.33" height="1.95" fill="#355f8d"/>
<rect x="288.02" y="253.85" width="11.33" height="1.95" fill="#3a548c"/>
<rect x="288.02" y="255.60" width="11.33" height="1.95" fill="#414487"/>
<rect x="288.02" y="257.35" width="11.33" height="1.95" fill="#46307e"/>
<rect x="288.02" y="259.10" width="11.33" height="1.95" fill="#481d6f"/>
<rect x="299.05" y="190.85" width="11.33" height="1.95" fill="#481769"/>
<rect x="299.05" y="192.60" width="11.33" height="1.95" fill="#472a7a"/>
<rect x="299.05" y="194.35" width="11.33" height="1.95" fill="#414487"/>
<rect x="299.05" y="196.10" width="11.33" height="1.95" fill="#375a8c"/>
<rect x="299.05" y="197.85" width="11.33" height="1.95" fill="#306a8e"/>
<rect x="299.05" y="199.60" width="11.33" height="1.95" fill="#2a788e"/>
<rect x="299.05" y="201.35" width="11.33" height="1.95" fill="#24868e"/>
<rect x="299.05" y="203.10" width="11.33" height="1.95" fill="#1f958b"/>
<rect x="299.05" y="204.85" width="11.33" height="1.95" fill="#20a386"/>
<rect x="299.05" y="206.60" width="11.33" height="1.95" fill="#2cb17e"/>
<rect x="299.05" y="208.35" width="11.33" height="1.95" fill="#3bbb75"/>
<rect x="299.05" y="210.10" width="11.33" height="1.95" fill="#4ec36b"/>
<rect x="299.05" y="211.85" width="11.33" height="1.95" fill="#6ece58"/>
<rect x="299.05" y="213.60" width="11.33" height="1.95" fill="#86d549"/>
<rect x="299.05" y="215.35" width="11.33" height="1.95" fill="#95d840"/>
<rect x="299.05" y="217.10" width="11.33" height="1.95" fill="#b0dd2f"/>
<rect x="299.05" y="218.85" width="11.33" height="1.95" fill="#bddf26"/>
<rect x="299.05" y="220.60" width="11.33" height="3.70" fill="#d8e219"/>
<rect x="299.05" y="224.10" width="11.33" height="5.45" fill="#e5e419"/>
<rect x="299.05" y="229.35" width="11.33" height="1.95" fill="#d8e219"/>
<rect x="299.05" y="231.10" width="11.33" height="1.95" fill="#cae11f"/>
<rect x="299.05" y="232.85" width="11.33" height="1.95" fill="#bddf26"/>
<rect x="299.05" y="234.60" width="11.33" height="1.95" fill="#b0dd2f"/>
<rect x="299.05" y="236.35" width="11.33" height="1.95" fill="#a2da37"/>
<rect x="299.05" y="238.10" width="11.33" height="1.95" fill="#86d549"/>
<rect x="299.05" y="239.85" width="11.33" height="1.95" fill="#7ad151"/>
<rect x="299.05" y="241.60" width="11.33" height="1.95" fill="#63cb5f"/>
<rect x="299.05" y="243.35" width="11.33" height="1.95" fill="#4ec36b"/>
<rect x="299.05" y="245.10" width="11.33" height="1.95" fill="#3bbb75"/>
<rect x="299.05" y="246.85" width="11.33" height="1.95" fill="#32b67a"/>
<rect x="299.05" y="248.60" width="11.33" height="1.95" fill="#26ad81"/>
<rect x="299.05" y="250.35" width="11.33" height="1.95" fill="#20a386"/>
<rect x="299.05" y="252.10" width="11.33" height="1.95" fill="#1f9a8a"/>
<rect x="299.05" y="253.85" width="11.33" height="1.95" fill="#21918c"/>
<rect x="299.05" y="255.60" width="11.33" height="1.95" fill="#26828e"/>
<rect x="299.05" y="257.35" width="11.33" height="1.95" fill="#2a788e"/>
<rect x="299.05" y="259.10" width="11.33" height="1.95" fill="#2e6f8e"/>
<rect x="299.05" y="260.85" width="11.33" height="1.95" fill="#32648e"/>
<rect x="299.05" y="262.60" width="11.33" height="1.95" fill="#3a548c"/>
<rect x="299.05" y="264.35" width="11.33" height="1.95" fill="#3e4989"/>
<rect x="299.05" y="266.10" width="11.33" height="1.95" fill="#433e85"/>
<rect x="299.05" y="267.85" width="11.33" height="1.95" fill="#472a7a"/>
<rect x="299.05" y="269.60" width="11.33" height="1.95" fill="#481d6f"/>
<rect x="299.05" y="271.35" width="11.33" height="1.95" fill="#46085c"/>
<rect x="310.08" y="201.35" width="11.33" height="1.95" fill="#481769"/>
<rect x="310.08" y="203.10" width="11.33" height="1.95" fill="#453781"/>
<rect x="310.08" y="204.85" width="11.33" height="1.95" fill="#3c4f8a"/>
<rect x="310.08" y="206.60" width="11.33" height="1.95" fill="#32648e"/>
<rect x="310.08" y="208.35" width="11.33" height="1.95" fill="#2a788e"/>
<rect x="310.08" y="210.10" width="11.33" height="1.95" fill="#24868e"/>
<rect x="310.08" y="211.85" width="11.33" height="1.95" fill="#1f9a8a"/>
<rect x="310.08" y="213.60" width="11.33" height="1.95" fill="#22a884"/>
<rect x="310.08" y="215.35" width="11.33" height="1.95" fill="#32b67a"/>
<rect x="310.08" y="217.10" width="11.33" height="1.95" fill="#44bf70"/>
<rect x="310.08" y="218.85" width="11.33" height="1.95" fill="#63cb5f"/>
<rect x="310.08" y="220.60" width="11.33" height="1.95" fill="#7ad151"/>
<rect x="310.08" y="222.35" width="11.33" height="1.95" fill="#95d840"/>
<rect x="310.08" y="224.10" width="11.33" height="1.95" fill="#a2da37"/>
<rect x="310.08" y="225.85" width="11.33" height="1.95" fill="#b0dd2f"/>
<rect x="310.08" y="227.60" width="11.33" height="3.70" fill="#bddf26"/>
<rect x="310.08" y="231.10" width="11.33" height="3.70" fill="#b0dd2f"/>
<rect x="310.08" y="234.60" width="11.33" height="1.95" fill="#a2da37"/>
<rect x="310.08" y="236.35" width="11.33" height="1.95" fill="#95d840"/>
<rect x="310.08" y="238.10" width="11.33" height="1.95" fill="#86d549"/>
<rect x="310.08" y="239.85" width="11.33" height="1.95" fill="#7ad151"/>
<rect x="310.08" y="241.60" width="11.33" height="1.95" fill="#6ece58"/>
<rect x="310.08" y="243.35" width="11.33" height="1.95" fill="#63cb5f"/>
<rect x="310.08" y="245.10" width="11.33" height="1.95" fill="#4ec36b"/>
<rect x="310.08" y="246.85" width="11.33" height="1.95" fill="#44bf70"/>
<rect x="310.08" y="248.60" width="11.33" height="1.95" fill="#3bbb75"/>
<rect x="310.08" y="250.35" width="11.33" height="1.95" fill="#2cb17e"/>
<rect x="310.08" y="252.10" width="11.33" height="1.95" fill="#26ad81"/>
<rect x="310.08" y="253.85" width="11.33" height="1.95" fill="#20a386"/>
<rect x="310.08" y="255.60" width="11.33" height="1.95" fill="#1f9f88"/>
<rect x="310.08" y="257.35" width="11.33" height="1.95" fill="#1f958b"/>
<rect x="310.08" y="259.10" width="11.33" height="1.95" fill="#21918c"/>
<rect x="310.08" y="260.85" width="11.33" height="1.95" fill="#24868e"/>
<rect x="310.08" y="262.60" width="11.33" height="1.95" fill="#287d8e"/>
<rect x="310.08" y="264.35" width="11.33" height="1.95" fill="#2c738e"/>
<rect x="310.08" y="266.10" width="11.33" height="1.95" fill="#2e6f8e"/>
<rect x="310.08" y="267.85" width="11.33" height="1.95" fill="#32648e"/>
<rect x="310.08" y="269.60" width="11.33" height="3.70" fill="#375a8c"/>
<rect x="310.08" y="273.10" width="11.33" height="5.45" fill="#355f8d"/>
<rect x="310.08" y="278.35" width="11.33" height="1.95" fill="#375a8c"/>
<rect x="310.08" y="280.10" width="11.33" height="1.95" fill="#3a548c"/>
<rect x="310.08" y="281.85" width="11.33" height="1.95" fill="#3c4f8a"/>
<rect x="310.08" y="283.60" width="11.33" height="1.95" fill="#414487"/>
<rect x="310.08" y="285.35" width="11.33" height="1.95" fill="#453781"/>
<rect x="310.08" y="287.10" width="11.33" height="1.95" fill="#472a7a"/>
<rect x="310.08" y="288.85" width="11.33" height="1.95" fill="#481d6f"/>
<rect x="310.08" y="290.60" width="11.33" height="1.95" fill="#46085c"/>
<rect x="321.12" y="208.35" width="11.33" height="1.95" fill="#481d6f"/>
<rect x="321.12" y="210.10" width="11.33" height="1.95" fill="#453781"/>
<rect x="321.12" y="211.85" width="11.33" height="1.95" fill="#3c4f8a"/>
<rect x="321.12" y="213.60" width="11.33" height="1.95" fill="#355f8d"/>
<rect x="321.12" y="215.35" width="11.33" height="1.95" fill="#2c738e"/>
<rect x="321.12" y="217.10" width="11.33" height="1.95" fill="#26828e"/>
<rect x="321.12" y="218.85" width="11.33" height="1.95" fill="#21918c"/>
<rect x="321.12" y="220.60" width="11.33" height="1.95" fill="#1f9a8a"/>
<rect x="321.12" y="222.35" width="11.33" height="1.95" fill="#22a884"/>
<rect x="321.12" y="224.10" width="11.33" height="1.95" fill="#2cb17e"/>
<rect x="321.12" y="225.85" width="11.33" height="1.95" fill="#3bbb75"/>
<rect x="321.12" y="227.60" width="11.33" height="1.95" fill="#4ec36b"/>
<rect x="321.12" y="229.35" width="11.33" height="1.95" fill="#58c765"/>
<rect x="321.12" y="231.10" width="11.33" height="1.95" fill="#63cb5f"/>
<rect x="321.12" y="232.85" width="11.33" height="5.45" fill="#6ece58"/>
<rect x="321.12" y="238.10" width="11.33" height="1.95" fill="#63cb5f"/>
<rect x="321.12" y="239.85" width="11.33" height="3.70" fill="#58c765"/>
<rect x="321.12" y="243.35" width="11.33" height="1.95" fill="#4ec36b"/>
<rect x="321.12" y="245.10" width="11.33" height="1.95" fill="#44bf70"/>
<rect x="321.12" y="246.85" width="11.33" height="1.95" fill="#3bbb75"/>
<rect x="321.12" y="248.60" width="11.33" height="1.95" fill="#32b67a"/>
<rect x="321.12" y="250.35" width="11.33" height="1.95" fill="#2cb17e"/>
<rect x="321.12" y="252.10" width="11.33" height="1.95" fill="#26ad81"/>
<rect x="321.12" y="253.85" width="11.33" height="1.95" fill="#22a884"/>
<rect x="321.12" y="255.60" width="11.33" height="1.95" fill="#20a386"/>
<rect x="321.12" y="257.35" width="11.33" height="1.95" fill="#1f9a8a"/>
<rect x="321.12" y="259.10" width="11.33" height="1.95" fill="#1f958b"/>
<rect x="321.12" y="260.85" width="11.33" height="1.95" fill="#21918c"/>
<rect x="321.12" y="262.60" width="11.33" height="1.95" fill="#24868e"/>
<rect x="321.12" y="264.35" width="11.33" height="1.95" fill="#21918c"/>
<rect x="321.12" y="266.10" width="11.33" height="1.95" fill="#1f958b"/>
<rect x="321.12" y="267.85" width="11.33" height="10.70" fill="#1f9a8a"/>
<rect x="321.12" y="278.35" width="11.33" height="1.95" fill="#1f958b"/>
<rect x="321.12" y="280.10" width="11.33" height="1.95" fill="#21918c"/>
<rect x="321.12" y="281.85" width="11.33" height="1.95" fill="#228b8d"/>
<rect x="321.12" y="283.60" width="11.33" height="1.95" fill="#26828e"/>
<rect x="321.12" y="285.35" width="11.33" height="1.95" fill="#287d8e"/>
<rect x="321.12" y="287.10" width="11.33" height="1.95" fill="#2c738e"/>
<rect x="321.12" y="288.85" width="11.33" height="1.95" fill="#306a8e"/>
<rect x="321.12" y="290.60" width="11.33" height="1.95" fill="#355f8d"/>
<rect x="321.12" y="292.35" width="11.33" height="1.95" fill="#3a548c"/>
<rect x="321.12" y="294.10" width="11.33" height="1.95" fill="#414487"/>
<rect x="321.12" y="295.85" width="11.33" height="1.95" fill="#453781"/>
<rect x="321.12" y="297.60" width="11.33" height="1.95" fill="#482475"/>
<rect x="321.12" y="299.35" width="11.33" height="1.95" fill="#46085c"/>
<rect x="332.14" y="215.35" width="11.33" height="1.95" fill="#481d6f"/>
<rect x="332.14" y="217.10" width="11.33" height="1.95" fill="#46307e"/>
<rect x="332.14" y="218.85" width="11.33" height="1.95" fill="#3e4989"/>
<rect x="332.14" y="220.60" width="11.33" height="1.95" fill="#375a8c"/>
<rect x="332.14" y="222.35" width="11.33" height="1.95" fill="#306a8e"/>
<rect x="332.14" y="224.10" width="11.33" height="1.95" fill="#2a788e"/>
<rect x="332.14" y="225.85" width="11.33" height="1.95" fill="#26828e"/>
<rect x="332.14" y="227.60" width="11.33" height="1.95" fill="#228b8d"/>
<rect x="332.14" y="229.35" width="11.33" height="1.95" fill="#1f9a8a"/>
<rect x="332.14" y="231.10" width="11.33" height="1.95" fill="#20a386"/>
<rect x="332.14" y="232.85" width="11.33" height="1.95" fill="#22a884"/>
<rect x="332.14" y="234.60" width="11.33" height="1.95" fill="#2cb17e"/>
<rect x="332.14" y="236.35" width="11.33" height="1.95" fill="#32b67a"/>
<rect x="332.14" y="238.10" width="11.33" height="5.45" fill="#3bbb75"/>
<rect x="332.14" y="243.35" width="11.33" height="3.70" fill="#32b67a"/>
<rect x="332.14" y="246.85" width="11.33" height="3.70" fill="#2cb17e"/>
<rect x="332.14" y="250.35" width="11.33" height="1.95" fill="#26ad81"/>
<rect x="332.14" y="252.10" width="11.33" height="1.95" fill="#22a884"/>
<rect x="332.14" y="253.85" width="11.33" height="1.95" fill="#20a386"/>
<rect x="332.14" y="255.60" width="11.33" height="3.70" fill="#1f9f88"/>
<rect x="332.14" y="259.10" width="11.33" height="1.95" fill="#22a884"/>
<rect x="332.14" y="260.85" width="11.33" height="1.95" fill="#2cb17e"/>
<rect x="332.14" y="262.60" width="11.33" height="1.95" fill="#32b67a"/>
<rect x="332.14" y="264.35" width="11.33" height="1.95" fill="#3bbb75"/>
<rect x="332.14" y="266.10" width="11.33" height="1.95" fill="#44bf70"/>
<rect x="332.14" y="267.85" width="11.33" height="7.20" fill="#4ec36b"/>
<rect x="332.14" y="274.85" width="11.33" height="3.70" fill="#44bf70"/>
<rect x="332.14" y="278.35" width="11.33" height="3.70" fill="#3bbb75"/>
<rect x="332.14" y="281.85" width="11.33" height="1.95" fill="#32b67a"/>
<rect x="332.14" y="283.60" width="11.33" height="1.95" fill="#2cb17e"/>
<rect x="332.14" y="285.35" width="11.33" height="1.95" fill="#26ad81"/>
<rect x="332.14" y="287.10" width="11.33" height="1.95" fill="#20a386"/>
<rect x="332.14" y="288.85" width="11.33" height="1.95" fill="#1f9f88"/>
<rect x="332.14" y="290.60" width="11.33" height="1.95" fill="#1f958b"/>
<rect x="332.14" y="292.35" width="11.33" height="1.95" fill="#228b8d"/>
<rect x="332.14" y="294.10" width="11.33" height="1.95" fill="#26828e"/>
<rect x="332.14" y="295.85" width="11.33" height="1.95" fill="#2a788e"/>
<rect x="332.14" y="297.60" width="11.33" height="1.95" fill="#2e6f8e"/>
<rect x="332.14" y="299.35" width="11.33" height="1.95" fill="#32648e"/>
<rect x="332.14" y="301.10" width="11.33" height="1.95" fill="#3a548c"/>
<rect x="332.14" y="302.85" width="11.33" height="1.95" fill="#3e4989"/>
<rect x="332.14" y="304.60" width="11.33" height="1.95" fill="#453781"/>
<rect x="332.14" y="306.35" width="11.33" height="1.95" fill="#482475"/>
<rect x="332.14" y="308.10" width="11.33" height="1.95" fill="#471063"/>
<rect x="343.17" y="222.35" width="11.33" height="1.95" fill="#471063"/>
<rect x="343.17" y="224.10" width="11.33" height="1.95" fill="#482475"/>
<rect x="343.17" y="225.85" width="11.33" height="1.95" fill="#453781"/>
<rect x="343.17" y="227.60" width="11.33" height="1.95" fill="#3e4989"/>
<rect x="343.17" y="229.35" width="11.33" height="1.95" fill="#375a8c"/>
<rect x="343.17" y="231.10" width="11.33" height="1.95" fill="#32648e"/>
<rect x="343.17" y="232.85" width="11.33" height="1.95" fill="#2e6f8e"/>
<rect x="343.17" y="234.60" width="11.33" height="1.95" fill="#2a788e"/>
<rect x="343.17" y="236.35" width="11.33" height="1.95" fill="#26828e"/>
<rect x="343.17" y="238.10" width="11.33" height="1.95" fill="#228b8d"/>
<rect x="343.17" y="239.85" width="11.33" height="1.95" fill="#21918c"/>
<rect x="343.17" y="241.60" width="11.33" height="1.95" fill="#1f958b"/>
<rect x="343.17" y="243.35" width="11.33" height="1.95" fill="#1f9a8a"/>
<rect x="343.17" y="245.10" width="11.33" height="5.45" fill="#1f9f88"/>
<rect x="343.17" y="250.35" width="11.33" height="3.70" fill="#1f9a8a"/>
<rect x="343.17" y="253.85" width="11.33" height="1.95" fill="#1f958b"/>
<rect x="343.17" y="255.60" width="11.33" height="1.95" fill="#1f9f88"/>
<rect x="343.17" y="257.35" width="11.33" height="1.95" fill="#22a884"/>
<rect x="343.17" y="259.10" width="11.33" height="1.95" fill="#2cb17e"/>
<rect x="343.17" y="260.85" width="11.33" height="1.95" fill="#3bbb75"/>
<rect x="343.17" y="262.60" width="11.33" height="1.95" fill="#4ec36b"/>
<rect x="343.17" y="264.35" width="11.33" height="1.95" fill="#58c765"/>
<rect x="343.17" y="266.10" width="11.33" height="1.95" fill="#63cb5f"/>
<rect x="343.17" y="267.85" width="11.33" height="1.95" fill="#6ece58"/>
<rect x="343.17" y="269.60" width="11.33" height="8.95" fill="#7ad151"/>
<rect x="343.17" y="278.35" width="11.33" height="3.70" fill="#6ece58"/>
<rect x="343.17" y="281.85" width="11.33" height="1.95" fill="#63cb5f"/>
<rect x="343.17" y="283.60" width="11.33" height="3.70" fill="#58c765"/>
<rect x="343.17" y="287.10" width="11.33" height="1.95" fill="#4ec36b"/>
<rect x="343.17" y="288.85" width="11.33" height="1.95" fill="#3bbb75"/>
<rect x="343.17" y="290.60" width="11.33" height="1.95" fill="#32b67a"/>
<rect x="343.17" y="292.35" width="11.33" height="1.95" fill="#2cb17e"/>
<rect x="343.17" y="294.10" width="11.33" height="1.95" fill="#22a884"/>
<rect x="343.17" y="295.85" width="11.33" height="1.95" fill="#20a386"/>
<rect x="343.17" y="297.60" width="11.33" height="1.95" fill="#1f9a8a"/>
<rect x="343.17" y="299.35" width="11.33" height="1.95" fill="#21918c"/>
<rect x="343.17" y="301.10" width="11.33" height="1.95" fill="#24868e"/>
<rect x="343.17" y="302.85" width="11.33" height="1.95" fill="#287d8e"/>
<rect x="343.17" y="304.60" width="11.33" height="1.95" fill="#2c738e"/>
<rect x="343.17" y="306.35" width="11.33" height="1.95" fill="#306a8e"/>
<rect x="343.17" y="308.10" width="11.33" height="1.95" fill="#375a8c"/>
<rect x="343.17" y="309.85" width="11.33" height="1.95" fill="#3c4f8a"/>
<rect x="343.17" y="311.60" width="11.33" height="1.95" fill="#433e85"/>
<rect x="343.17" y="313.35" width="11.33" height="1.95" fill="#472a7a"/>
<rect x="343.17" y="315.10" width="11.33" height="1.95" fill="#481d6f"/>
<rect x="354.20" y="231.10" width="11.33" height="1.95" fill="#46085c"/>
<rect x="354.20" y="232.85" width="11.33" height="1.95" fill="#481d6f"/>
<rect x="354.20" y="234.60" width="11.33" height="1.95" fill="#472a7a"/>
<rect x="354.20" y="236.35" width="11.33" height="1.95" fill="#433e85"/>
<rect x="354.20" y="238.10" width="11.33" height="1.95" fill="#3e4989"/>
<rect x="354.20" y="239.85" width="11.33" height="1.95" fill="#3a548c"/>
<rect x="354.20" y="241.60" width="11.33" height="1.95" fill="#355f8d"/>
<rect x="354.20" y="243.35" width="11.33" height="1.95" fill="#32648e"/>
<rect x="354.20" y="245.10" width="11.33" height="1.95" fill="#2e6f8e"/>
<rect x="354.20" y="246.85" width="11.33" height="1.95" fill="#2c738e"/>
<rect x="354.20" y="248.60" width="11.33" height="1.95" fill="#2a788e"/>
<rect x="354.20" y="250.35" width="11.33" height="3.70" fill="#287d8e"/>
<rect x="354.20" y="253.85" width="11.33" height="1.95" fill="#24868e"/>
<rect x="354.20" y="255.60" width="11.33" height="1.95" fill="#1f958b"/>
<rect x="354.20" y="257.35" width="11.33" height="1.95" fill="#20a386"/>
<rect x="354.20" y="259.10" width="11.33" height="1.95" fill="#26ad81"/>
<rect x="354.20" y="260.85" width="11.33" height="1.95" fill="#32b67a"/>
<rect x="354.20" y="262.60" width="11.33" height="1.95" fill="#4ec36b"/>
<rect x="354.20" y="264.35" width="11.33" height="1.95" fill="#58c765"/>
<rect x="354.20" y="266.10" width="11.33" height="1.95" fill="#6ece58"/>
<rect x="354.20" y="267.85" width="11.33" height="1.95" fill="#86d549"/>
<rect x="354.20" y="269.60" width="11.33" height="1.95" fill="#95d840"/>
<rect x="354.20" y="271.35" width="11.33" height="1.95" fill="#a2da37"/>
<rect x="354.20" y="273.10" width="11.33" height="3.70" fill="#b0dd2f"/>
<rect x="354.20" y="276.60" width="11.33" height="8.95" fill="#bddf26"/>
<rect x="354.20" y="285.35" width="11.33" height="3.70" fill="#b0dd2f"/>
<rect x="354.20" y="288.85" width="11.33" height="1.95" fill="#a2da37"/>
<rect x="354.20" y="290.60" width="11.33" height="1.95" fill="#95d840"/>
<rect x="354.20" y="292.35" width="11.33" height="1.95" fill="#86d549"/>
<rect x="354.20" y="294.10" width="11.33" height="1.95" fill="#7ad151"/>
<rect x="354.20" y="295.85" width="11.33" height="1.95" fill="#6ece58"/>
<rect x="354.20" y="297.60" width="11.33" height="1.95" fill="#63cb5f"/>
<rect x="354.20" y="299.35" width="11.33" height="1.95" fill="#4ec36b"/>
<rect x="354.20" y="301.10" width="11.33" height="1.95" fill="#44bf70"/>
<rect x="354.20" y="302.85" width="11.33" height="1.95" fill="#32b67a"/>
<rect x="354.20" y="304.60" width="11.33" height="1.95" fill="#26ad81"/>
<rect x="354.20" y="306.35" width="11.33" height="1.95" fill="#20a386"/>
<rect x="354.20" y="308.10" width="11.33" height="1.95" fill="#1f9a8a"/>
<rect x="354.20" y="309.85" width="11.33" height="1.95" fill="#228b8d"/>
<rect x="354.20" y="311.60" width="11.33" height="1.95" fill="#26828e"/>
<rect x="354.20" y="313.35" width="11.33" height="1.95" fill="#2a788e"/>
<rect x="354.20" y="315.10" width="11.33" height="1.95" fill="#306a8e"/>
<rect x="354.20" y="316.85" width="11.33" height="1.95" fill="#375a8c"/>
<rect x="354.20" y="318.60" width="11.33" height="1.95" fill="#3e4989"/>
<rect x="354.20" y="320.35" width="11.33" height="1.95" fill="#453781"/>
<rect x="354.20" y="322.10" width="11.33" height="1.95" fill="#482475"/>
<rect x="354.20" y="323.85" width="11.33" height="1.95" fill="#471063"/>
<rect x="365.23" y="241.60" width="11.33" height="1.95" fill="#46085c"/>
<rect x="365.23" y="243.35" width="11.33" height="1.95" fill="#481769"/>
<rect x="365.23" y="245.10" width="11.33" height="1.95" fill="#482475"/>
<rect x="365.23" y="246.85" width="11.33" height="1.95" fill="#453781"/>
<rect x="365.23" y="248.60" width="11.33" height="1.95" fill="#3e4989"/>
<rect x="365.23" y="250.35" width="11.33" height="1.95" fill="#355f8d"/>
<rect x="365.23" y="252.10" width="11.33" height="1.95" fill="#2e6f8e"/>
<rect x="365.23" y="253.85" width="11.33" height="1.95" fill="#287d8e"/>
<rect x="365.23" y="255.60" width="11.33" height="1.95" fill="#228b8d"/>
<rect x="365.23" y="257.35" width="11.33" height="1.95" fill="#1f958b"/>
<rect x="365.23" y="259.10" width="11.33" height="1.95" fill="#20a386"/>
<rect x="365.23" y="260.85" width="11.33" height="1.95" fill="#26ad81"/>
<rect x="365.23" y="262.60" width="11.33" height="1.95" fill="#32b67a"/>
<rect x="365.23" y="264.35" width="11.33" height="1.95" fill="#4ec36b"/>
<rect x="365.23" y="266.10" width="11.33" height="1.95" fill="#58c765"/>
<rect x="365.23" y="267.85" width="11.33" height="1.95" fill="#6ece58"/>
<rect x="365.23" y="269.60" width="11.33" height="1.95" fill="#86d549"/>
<rect x="365.23" y="271.35" width="11.33" height="1.95" fill="#95d840"/>
<rect x="365.23" y="273.10" width="11.33" height="1.95" fill="#a2da37"/>
<rect x="365.23" y="274.85" width="11.33" height="1.95" fill="#b0dd2f"/>
<rect x="365.23" y="276.60" width="11.33" height="1.95" fill="#bddf26"/>
<rect x="365.23" y="278.35" width="11.33" height="3.70" fill="#cae11f"/>
<rect x="365.23" y="281.85" width="11.33" height="8.95" fill="#d8e219"/>
<rect x="365.23" y="290.60" width="11.33" height="3.70" fill="#cae11f"/>
<rect x="365.23" y="294.10" width="11.33" height="3.70" fill="#bddf26"/>
<rect x="365.23" y="297.60" width="11.33" height="1.95" fill="#b0dd2f"/>
<rect x="365.23" y="299.35" width="11.33" height="1.95" fill="#a2da37"/>
<rect x="365.23" y="301.10" width="11.33" height="1.95" fill="#95d840"/>
<rect x="365.23" y="302.85" width="11.33" height="1.95" fill="#7ad151"/>
<rect x="365.23" y="304.60" width="11.33" height="1.95" fill="#6ece58"/>
<rect x="365.23" y="306.35" width="11.33" height="1.95" fill="#58c765"/>
<rect x="365.23" y="308.10" width="11.33" height="1.95" fill="#4ec36b"/>
<rect x="365.23" y="309.85" width="11.33" height="1.95" fill="#3bbb75"/>
<rect x="365.23" y="311.60" width="11.33" height="1.95" fill="#2cb17e"/>
<rect x="365.23" y="313.35" width="11.33" height="1.95" fill="#22a884"/>
<rect x="365.23" y="315.10" width="11.33" height="1.95" fill="#1f9f88"/>
<rect x="365.23" y="316.85" width="11.33" height="1.95" fill="#1f958b"/>
<rect x="365.23" y="318.60" width="11.33" height="1.95" fill="#24868e"/>
<rect x="365.23" y="320.35" width="11.33" height="1.95" fill="#287d8e"/>
<rect x="365.23" y="322.10" width="11.33" height="1.95" fill="#2e6f8e"/>
<rect x="365.23" y="323.85" width="11.33" height="1.95" fill="#355f8d"/>
<rect x="365.23" y="325.60" width="11.33" height="1.95" fill="#3c4f8a"/>
<rect x="365.23" y="327.35" width="11.33" height="1.95" fill="#433e85"/>
<rect x="365.23" y="329.10" width="11.33" height="1.95" fill="#472a7a"/>
<rect x="365.23" y="330.85" width="11.33" height="1.95" fill="#481769"/>
<rect x="376.26" y="250.35" width="11.33" height="1.95" fill="#481769"/>
<rect x="376.26" y="252.10" width="11.33" height="1.95" fill="#472a7a"/>
<rect x="376.26" y="253.85" width="11.33" height="1.95" fill="#414487"/>
<rect x="376.26" y="255.60" width="11.33" height="1.95" fill="#3a548c"/>
<rect x="376.26" y="257.35" width="11.33" height="1.95" fill="#32648e"/>
<rect x="376.26" y="259.10" width="11.33" height="1.95" fill="#2c738e"/>
<rect x="376.26" y="260.85" width="11.33" height="1.95" fill="#26828e"/>
<rect x="376.26" y="262.60" width="11.33" height="1.95" fill="#228b8d"/>
<rect x="376.26" y="264.35" width="11.33" height="1.95" fill="#1f9a8a"/>
<rect x="376.26" y="266.10" width="11.33" height="1.95" fill="#20a386"/>
<rect x="376.26" y="267.85" width="11.33" height="1.95" fill="#2cb17e"/>
<rect x="376.26" y="269.60" width="11.33" height="1.95" fill="#3bbb75"/>
<rect x="376.26" y="271.35" width="11.33" height="1.95" fill="#4ec36b"/>
<rect x="376.26" y="273.10" width="11.33" height="1.95" fill="#58c765"/>
<rect x="376.26" y="274.85" width="11.33" height="1.95" fill="#6ece58"/>
<rect x="376.26" y="276.60" width="11.33" height="1.95" fill="#86d549"/>
<rect x="376.26" y="278.35" width="11.33" height="1.95" fill="#95d840"/>
<rect x="376.26" y="280.10" width="11.33" height="1.95" fill="#a2da37"/>
<rect x="376.26" y="281.85" width="11.33" height="1.95" fill="#b0dd2f"/>
<rect x="376.26" y="283.60" width="11.33" height="1.95" fill="#bddf26"/>
<rect x="376.26" y="285.35" width="11.33" height="3.70" fill="#cae11f"/>
<rect x="376.26" y="288.85" width="11.33" height="12.45" fill="#d8e219"/>
<rect x="376.26" y="301.10" width="11.33" height="1.95" fill="#cae11f"/>
<rect x="376.26" y="302.85" width="11.33" height="1.95" fill="#bddf26"/>
<rect x="376.26" y="304.60" width="11.33" height="1.95" fill="#b0dd2f"/>
<rect x="376.26" y="306.35" width="11.33" height="1.95" fill="#a2da37"/>
<rect x="376.26" y="308.10" width="11.33" height="1.95" fill="#95d840"/>
<rect x="376.26" y="309.85" width="11.33" height="1.95" fill="#86d549"/>
<rect x="376.26" y="311.60" width="11.33" height="1.95" fill="#6ece58"/>
<rect x="376.26" y="313.35" width="11.33" height="1.95" fill="#58c765"/>
<rect x="376.26" y="315.10" width="11.33" height="1.95" fill="#44bf70"/>
<rect x="376.26" y="316.85" width="11.33" height="1.95" fill="#32b67a"/>
<rect x="376.26" y="318.60" width="11.33" height="1.95" fill="#26ad81"/>
<rect x="376.26" y="320.35" width="11.33" height="1.95" fill="#20a386"/>
<rect x="376.26" y="322.10" width="11.33" height="1.95" fill="#1f958b"/>
<rect x="376.26" y="323.85" width="11.33" height="1.95" fill="#24868e"/>
<rect x="376.26" y="325.60" width="11.33" height="1.95" fill="#287d8e"/>
<rect x="376.26" y="327.35" width="11.33" height="1.95" fill="#2e6f8e"/>
<rect x="376.26" y="329.10" width="11.33" height="1.95" fill="#375a8c"/>
<rect x="376.26" y="330.85" width="11.33" height="1.95" fill="#3e4989"/>
<rect x="376.26" y="332.60" width="11.33" height="1.95" fill="#453781"/>
<rect x="376.26" y="334.35" width="11.33" height="1.95" fill="#481d6f"/>
<rect x="387.29" y="255.60" width="11.33" height="1.95" fill="#46085c"/>
<rect x="387.29" y="257.35" width="11.33" height="1.95" fill="#482475"/>
<rect x="387.29" y="259.10" width="11.33" height="1.95" fill="#453781"/>
<rect x="387.29" y="260.85" width="11.33" height="1.95" fill="#3e4989"/>
<rect x="387.29" y="262.60" width="11.33" height="1.95" fill="#355f8d"/>
<rect x="387.29" y="264.35" width="11.33" height="1.95" fill="#2e6f8e"/>
<rect x="387.29" y="266.10" width="11.33" height="1.95" fill="#287d8e"/>
<rect x="387.29" y="267.85" width="11.33" height="1.95" fill="#24868e"/>
<rect x="387.29" y="269.60" width="11.33" height="1.95" fill="#1f958b"/>
<rect x="387.29" y="271.35" width="11.33" height="1.95" fill="#1f9f88"/>
<rect x="387.29" y="273.10" width="11.33" height="1.95" fill="#26ad81"/>
<rect x="387.29" y="274.85" width="11.33" height="1.95" fill="#32b67a"/>
<rect x="387.29" y="276.60" width="11.33" height="1.95" fill="#44bf70"/>
<rect x="387.29" y="278.35" width="11.33" height="1.95" fill="#58c765"/>
<rect x="387.29" y="280.10" width="11.33" height="1.95" fill="#6ece58"/>
<rect x="387.29" y="281.85" width="11.33" height="1.95" fill="#7ad151"/>
<rect x="387.29" y="283.60" width="11.33" height="1.95" fill="#95d840"/>
<rect x="387.29" y="285.35" width="11.33" height="1.95" fill="#a2da37"/>
<rect x="387.29" y="287.10" width="11.33" height="1.95" fill="#b0dd2f"/>
<rect x="387.29" y="288.85" width="11.33" height="3.70" fill="#cae11f"/>
<rect x="387.29" y="292.35" width="11.33" height="1.95" fill="#d8e219"/>
<rect x="387.29" y="294.10" width="11.33" height="3.70" fill="#e5e419"/>
<rect x="387.29" y="297.60" width="11.33" height="8.95" fill="#f1e51d"/>
<rect x="387.29" y="306.35" width="11.33" height="1.95" fill="#e5e419"/>
<rect x="387.29" y="308.10" width="11.33" height="1.95" fill="#d8e219"/>
<rect x="387.29" y="309.85" width="11.33" height="1.95" fill="#cae11f"/>
<rect x="387.29" y="311.60" width="11.33" height="1.95" fill="#bddf26"/>
<rect x="387.29" y="313.35" width="11.33" height="1.95" fill="#b0dd2f"/>
<rect x="387.29" y="315.10" width="11.33" height="1.95" fill="#95d840"/>
<rect x="387.29" y="316.85" width="11.33" height="1.95" fill="#86d549"/>
<rect x="387.29" y="318.60" width="11.33" height="1.95" fill="#6ece58"/>
<rect x="387.29" y="320.35" width="11.33" height="1.95" fill="#4ec36b"/>
<rect x="387.29" y="322.10" width="11.33" height="1.95" fill="#3bbb75"/>
<rect x="387.29" y="323.85" width="11.33" height="1.95" fill="#26ad81"/>
<rect x="387.29" y="325.60" width="11.33" height="1.95" fill="#20a386"/>
<rect x="387.29" y="327.35" width="11.33" height="1.95" fill="#1f958b"/>
<rect x="387.29" y="329.10" width="11.33" height="1.95" fill="#26828e"/>
<rect x="387.29" y="330.85" width="11.33" height="1.95" fill="#2c738e"/>
<rect x="387.29" y="332.60" width="11.33" height="1.95" fill="#355f8d"/>
<rect x="387.29" y="334.35" width="11.33" height="1.95" fill="#3c4f8a"/>
<rect x="387.29" y="336.10" width="11.33" height="1.95" fill="#46307e"/>
<rect x="387.29" y="337.85" width="11.33" height="1.95" fill="#481769"/>
<rect x="398.32" y="260.85" width="11.33" height="1.95" fill="#46085c"/>
<rect x="398.32" y="262.60" width="11.33" height="1.95" fill="#482475"/>
<rect x="398.32" y="264.35" width="11.33" height="1.95" fill="#453781"/>
<rect x="398.32" y="266.10" width="11.33" height="1.95" fill="#3c4f8a"/>
<rect x="398.32" y="267.85" width="11.33" height="1.95" fill="#355f8d"/>
<rect x="398.32" y="269.60" width="11.33" height="1.95" fill="#2e6f8e"/>
<rect x="398.32" y="271.35" width="11.33" height="1.95" fill="#287d8e"/>
<rect x="398.32" y="273.10" width="11.33" height="1.95" fill="#24868e"/>
<rect x="398.32" y="274.85" width="11.33" height="1.95" fill="#1f958b"/>
<rect x="398.32" y="276.60" width="11.33" height="1.95" fill="#1f9f88"/>
<rect x="398.32" y="278.35" width="11.33" height="1.95" fill="#26ad81"/>
<rect x="398.32" y="280.10" width="11.33" height="1.95" fill="#32b67a"/>
<rect x="398.32" y="281.85" width="11.33" height="1.95" fill="#44bf70"/>
<rect x="398.32" y="283.60" width="11.33" height="1.95" fill="#58c765"/>
<rect x="398.32" y="285.35" width="11.33" height="1.95" fill="#6ece58"/>
<rect x="398.32" y="287.10" width="11.33" height="1.95" fill="#7ad151"/>
<rect x="398.32" y="288.85" width="11.33" height="1.95" fill="#95d840"/>
<rect x="398.32" y="290.60" width="11.33" height="1.95" fill="#a2da37"/>
<rect x="398.32" y="292.35" width="11.33" height="1.95" fill="#bddf26"/>
<rect x="398.32" y="294.10" width="11.33" height="1.95" fill="#cae11f"/>
<rect x="398.32" y="295.85" width="11.33" height="1.95" fill="#d8e219"/>
<rect x="398.32" y="297.60" width="11.33" height="3.70" fill="#e5e419"/>
<rect x="398.32" y="301.10" width="11.33" height="3.70" fill="#f1e51d"/>
<rect x="398.32" y="304.60" width="11.33" height="7.20" fill="#fde725"/>
<rect x="398.32" y="311.60" width="11.33" height="3.70" fill="#f1e51d"/>
<rect x="398.32" y="315.10" width="11.33" height="1.95" fill="#e5e419"/>
<rect x="398.32" y="316.85" width="11.33" height="1.95" fill="#d8e219"/>
<rect x="398.32" y="318.60" width="11.33" height="1.95" fill="#bddf26"/>
<rect x="398.32" y="320.35" width="11.33" height="1.95" fill="#a2da37"/>
<rect x="398.32" y="322.10" width="11.33" height="1.95" fill="#86d549"/>
<rect x="398.32" y="323.85" width="11.33" height="1.95" fill="#6ece58"/>
<rect x="398.32" y="325.60" width="11.33" height="1.95" fill="#4ec36b"/>
<rect x="398.32" y="327.35" width="11.33" height="1.95" fill="#3bbb75"/>
<rect x="398.32" y="329.10" width="11.33" height="1.95" fill="#22a884"/>
<rect x="398.32" y="330.85" width="11.33" height="1.95" fill="#1f9a8a"/>
<rect x="398.32" y="332.60" width="11.33" height="1.95" fill="#24868e"/>
<rect x="398.32" y="334.35" width="11.33" height="1.95" fill="#2c738e"/>
<rect x="398.32" y="336.10" width="11.33" height="1.95" fill="#355f8d"/>
<rect x="398.32" y="337.85" width="11.33" height="1.95" fill="#3e4989"/>
<rect x="398.32" y="339.60" width="11.33" height="1.95" fill="#472a7a"/>
<rect x="398.32" y="341.35" width="11.33" height="1.95" fill="#46085c"/>
<rect x="409.35" y="267.85" width="11.33" height="1.95" fill="#481d6f"/>
<rect x="409.35" y="269.60" width="11.33" height="1.95" fill="#46307e"/>
<rect x="409.35" y="271.35" width="11.33" height="1.95" fill="#3e4989"/>
<rect x="409.35" y="273.10" width="11.33" height="1.95" fill="#375a8c"/>
<rect x="409.35" y="274.85" width="11.33" height="1.95" fill="#306a8e"/>
<rect x="409.35" y="276.60" width="11.33" height="1.95" fill="#2a788e"/>
<rect x="409.35" y="278.35" width="11.33" height="1.95" fill="#24868e"/>
<rect x="409.35" y="280.10" width="11.33" height="1.95" fill="#21918c"/>
<rect x="409.35" y="281.85" width="11.33" height="1.95" fill="#1f9f88"/>
<rect x="409.35" y="283.60" width="11.33" height="1.95" fill="#22a884"/>
<rect x="409.35" y="285.35" width="11.33" height="1.95" fill="#32b67a"/>
<rect x="409.35" y="287.10" width="11.33" height="1.95" fill="#44bf70"/>
<rect x="409.35" y="288.85" width="11.33" height="1.95" fill="#58c765"/>
<rect x="409.35" y="290.60" width="11.33" height="1.95" fill="#63cb5f"/>
<rect x="409.35" y="292.35" width="11.33" height="1.95" fill="#7ad151"/>
<rect x="409.35" y="294.10" width="11.33" height="1.95" fill="#95d840"/>
<rect x="409.35" y="295.85" width="11.33" height="1.95" fill="#a2da37"/>
<rect x="409.35" y="297.60" width="11.33" height="1.95" fill="#b0dd2f"/>
<rect x="409.35" y="299.35" width="11.33" height="1.95" fill="#bddf26"/>
<rect x="409.35" y="301.10" width="11.33" height="1.95" fill="#cae11f"/>
<rect x="409.35" y="302.85" width="11.33" height="1.95" fill="#d8e219"/>
<rect x="409.35" y="304.60" width="11.33" height="3.70" fill="#e5e419"/>
<rect x="409.35" y="308.10" width="11.33" height="7.20" fill="#f1e51d"/>
<rect x="409.35" y="315.10" width="11.33" height="3.70" fill="#e5e419"/>
<rect x="409.35" y="318.60" width="11.33" height="1.95" fill="#d8e219"/>
<rect x="409.35" y="320.35" width="11.33" height="1.95" fill="#bddf26"/>
<rect x="409.35" y="322.10" width="11.33" height="1.95" fill="#b0dd2f"/>
<rect x="409.35" y="323.85" width="11.33" height="1.95" fill="#95d840"/>
<rect x="409.35" y="325.60" width="11.33" height="1.95" fill="#6ece58"/>
<rect x="409.35" y="327.35" width="11.33" height="1.95" fill="#58c765"/>
<rect x="409.35" y="329.10" width="11.33" height="1.95" fill="#3bbb75"/>
<rect x="409.35" y="330.85" width="11.33" height="1.95" fill="#22a884"/>
<rect x="409.35" y="332.60" width="11.33" height="1.95" fill="#1f9a8a"/>
<rect x="409.35" y="334.35" width="11.33" height="1.95" fill="#24868e"/>
<rect x="409.35" y="336.10" width="11.33" height="1.95" fill="#2c738e"/>
<rect x="409.35" y="337.85" width="11.33" height="1.95" fill="#375a8c"/>
<rect x="409.35" y="339.60" width="11.33" height="1.95" fill="#433e85"/>
<rect x="409.35" y="341.35" width="11.33" height="1.95" fill="#481d6f"/>
<rect x="420.38" y="276.60" width="11.33" height="1.95" fill="#481d6f"/>
<rect x="420.38" y="278.35" width="11.33" height="1.95" fill="#46307e"/>
<rect x="420.38" y="280.10" width="11.33" height="1.95" fill="#3e4989"/>
<rect x="420.38" y="281.85" width="11.33" height="1.95" fill="#355f8d"/>
<rect x="420.38" y="283.60" width="11.33" height="1.95" fill="#2e6f8e"/>
<rect x="420.38" y="285.35" width="11.33" height="1.95" fill="#287d8e"/>
<rect x="420.38" y="287.10" width="11.33" height="1.95" fill="#228b8d"/>
<rect x="420.38" y="288.85" width="11.33" height="1.95" fill="#1f9a8a"/>
<rect x="420.38" y="290.60" width="11.33" height="1.95" fill="#22a884"/>
<rect x="420.38" y="292.35" width="11.33" height="1.95" fill="#2cb17e"/>
<rect x="420.38" y="294.10" width="11.33" height="1.95" fill="#3bbb75"/>
<rect x="420.38" y="295.85" width="11.33" height="1.95" fill="#4ec36b"/>
<rect x="420.38" y="297.60" width="11.33" height="1.95" fill="#63cb5f"/>
<rect x="420.38" y="299.35" width="11.33" height="1.95" fill="#7ad151"/>
<rect x="420.38" y="301.10" width="11.33" height="1.95" fill="#86d549"/>
<rect x="420.38" y="302.85" width="11.33" height="1.95" fill="#a2da37"/>
<rect x="420.38" y="304.60" width="11.33" height="1.95" fill="#b0dd2f"/>
<rect x="420.38" y="306.35" width="11.33" height="3.70" fill="#bddf26"/>
<rect x="420.38" y="309.85" width="11.33" height="7.20" fill="#cae11f"/>
<rect x="420.38" y="316.85" width="11.33" height="1.95" fill="#bddf26"/>
<rect x="420.38" y="318.60" width="11.33" height="1.95" fill="#b0dd2f"/>
<rect x="420.38" y="320.35" width="11.33" height="1.95" fill="#a2da37"/>
<rect x="420.38" y="322.10" width="11.33" height="1.95" fill="#95d840"/>
<rect x="420.38" y="323.85" width="11.33" height="1.95" fill="#7ad151"/>
<rect x="420.38" y="325.60" width="11.33" height="1.95" fill="#63cb5f"/>
<rect x="420.38" y="327.35" width="11.33" height="1.95" fill="#44bf70"/>
<rect x="420.38" y="329.10" width="11.33" height="1.95" fill="#32b67a"/>
<rect x="420.38" y="330.85" width="11.33" height="1.95" fill="#20a386"/>
<rect x="420.38" y="332.60" width="11.33" height="1.95" fill="#1f958b"/>
<rect x="420.38" y="334.35" width="11.33" height="1.95" fill="#26828e"/>
<rect x="420.38" y="336.10" width="11.33" height="1.95" fill="#2e6f8e"/>
<rect x="420.38" y="337.85" width="11.33" height="1.95" fill="#375a8c"/>
<rect x="420.38" y="339.60" width="11.33" height="1.95" fill="#433e85"/>
<rect x="420.38" y="341.35" width="11.33" height="1.95" fill="#481d6f"/>
<rect x="431.41" y="285.35" width="11.33" height="1.95" fill="#481769"/>
<rect x="431.41" y="287.10" width="11.33" height="1.95" fill="#46307e"/>
<rect x="431.41" y="288.85" width="11.33" height="1.95" fill="#3e4989"/>
<rect x="431.41" y="290.60" width="11.33" height="1.95" fill="#375a8c"/>
<rect x="431.41" y="292.35" width="11.33" height="1.95" fill="#2e6f8e"/>
<rect x="431.41" y="294.10" width="11.33" height="1.95" fill="#287d8e"/>
<rect x="431.41" y="295.85" width="11.33" height="1.95" fill="#24868e"/>
<rect x="431.41" y="297.60" width="11.33" height="1.95" fill="#1f958b"/>
<rect x="431.41" y="299.35" width="11.33" height="1.95" fill="#1f9f88"/>
<rect x="431.41" y="301.10" width="11.33" height="1.95" fill="#22a884"/>
<rect x="431.41" y="302.85" width="11.33" height="1.95" fill="#2cb17e"/>
<rect x="431.41" y="304.60" width="11.33" height="1.95" fill="#32b67a"/>
<rect x="431.41" y="306.35" width="11.33" height="1.95" fill="#44bf70"/>
<rect x="431.41" y="308.10" width="11.33" height="3.70" fill="#4ec36b"/>
<rect x="431.41" y="311.60" width="11.33" height="7.20" fill="#58c765"/>
<rect x="431.41" y="318.60" width="11.33" height="1.95" fill="#4ec36b"/>
<rect x="431.41" y="320.35" width="11.33" height="1.95" fill="#44bf70"/>
<rect x="431.41" y="322.10" width="11.33" height="1.95" fill="#3bbb75"/>
<rect x="431.41" y="323.85" width="11.33" height="1.95" fill="#2cb17e"/>
<rect x="431.41" y="325.60" width="11.33" height="1.95" fill="#26ad81"/>
<rect x="431.41" y="327.35" width="11.33" height="1.95" fill="#1f9f88"/>
<rect x="431.41" y="329.10" width="11.33" height="1.95" fill="#1f958b"/>
<rect x="431.41" y="330.85" width="11.33" height="1.95" fill="#24868e"/>
<rect x="431.41" y="332.60" width="11.33" height="1.95" fill="#2a788e"/>
<rect x="431.41" y="334.35" width="11.33" height="1.95" fill="#306a8e"/>
<rect x="431.41" y="336.10" width="11.33" height="1.95" fill="#3a548c"/>
<rect x="431.41" y="337.85" width="11.33" height="1.95" fill="#433e85"/>
<rect x="431.41" y="339.60" width="11.33" height="1.95" fill="#482475"/>
<rect x="431.41" y="341.35" width="11.33" height="1.95" fill="#46085c"/>
<rect x="442.44" y="292.35" width="11.33" height="1.95" fill="#481769"/>
<rect x="442.44" y="294.10" width="11.33" height="1.95" fill="#46307e"/>
<rect x="442.44" y="295.85" width="11.33" height="1.95" fill="#3e4989"/>
<rect x="442.44" y="297.60" width="11.33" height="1.95" fill="#375a8c"/>
<rect x="442.44" y="299.35" width="11.33" height="1.95" fill="#306a8e"/>
<rect x="442.44" y="301.10" width="11.33" height="1.95" fill="#2a788e"/>
<rect x="442.44" y="302.85" width="11.33" height="1.95" fill="#26828e"/>
<rect x="442.44" y="304.60" width="11.33" height="1.95" fill="#228b8d"/>
<rect x="442.44" y="306.35" width="11.33" height="1.95" fill="#1f958b"/>
<rect x="442.44" y="308.10" width="11.33" height="1.95" fill="#1f9a8a"/>
<rect x="442.44" y="309.85" width="11.33" height="3.70" fill="#20a386"/>
<rect x="442.44" y="313.35" width="11.33" height="5.45" fill="#22a884"/>
<rect x="442.44" y="318.60" width="11.33" height="3.70" fill="#20a386"/>
<rect x="442.44" y="322.10" width="11.33" height="1.95" fill="#1f9f88"/>
<rect x="442.44" y="323.85" width="11.33" height="1.95" fill="#1f958b"/>
<rect x="442.44" y="325.60" width="11.33" height="1.95" fill="#21918c"/>
<rect x="442.44" y="327.35" width="11.33" height="1.95" fill="#24868e"/>
<rect x="442.44" y="329.10" width="11.33" height="1.95" fill="#287d8e"/>
<rect x="442.44" y="330.85" width="11.33" height="1.95" fill="#2e6f8e"/>
<rect x="442.44" y="332.60" width="11.33" height="1.95" fill="#355f8d"/>
<rect x="442.44" y="334.35" width="11.33" height="1.95" fill="#3c4f8a"/>
<rect x="442.44" y="336.10" width="11.33" height="1.95" fill="#433e85"/>
<rect x="442.44" y="337.85" width="11.33" height="1.95" fill="#482475"/>
<rect x="442.44" y="339.60" width="11.33" height="1.95" fill="#46085c"/>
<rect x="453.47" y="297.60" width="11.33" height="1.95" fill="#481769"/>
<rect x="453.47" y="299.35" width="11.33" height="1.95" fill="#472a7a"/>
<rect x="453.47" y="301.10" width="11.33" height="1.95" fill="#433e85"/>
<rect x="453.47" y="302.85" width="11.33" height="1.95" fill="#3e4989"/>
<rect x="453.47" y="304.60" width="11.33" height="1.95" fill="#375a8c"/>
<rect x="453.47" y="306.35" width="11.33" height="1.95" fill="#355f8d"/>
<rect x="453.47" y="308.10" width="11.33" height="1.95" fill="#306a8e"/>
<rect x="453.47" y="309.85" width="11.33" height="1.95" fill="#2e6f8e"/>
<rect x="453.47" y="311.60" width="11.33" height="3.70" fill="#2a788e"/>
<rect x="453.47" y="315.10" width="11.33" height="5.45" fill="#287d8e"/>
<rect x="453.47" y="320.35" width="11.33" height="3.70" fill="#2a788e"/>
<rect x="453.47" y="323.85" width="11.33" height="1.95" fill="#2c738e"/>
<rect x="453.47" y="325.60" width="11.33" height="1.95" fill="#306a8e"/>
<rect x="453.47" y="327.35" width="11.33" height="1.95" fill="#32648e"/>
<rect x="453.47" y="329.10" width="11.33" height="1.95" fill="#3a548c"/>
<rect x="453.47" y="330.85" width="11.33" height="1.95" fill="#3e4989"/>
<rect x="453.47" y="332.60" width="11.33" height="1.95" fill="#453781"/>
<rect x="453.47" y="334.35" width="11.33" height="1.95" fill="#482475"/>
<rect x="453.47" y="336.10" width="11.33" height="1.95" fill="#471063"/>
<rect x="464.50" y="306.35" width="11.33" height="1.95" fill="#471063"/>
<rect x="464.50" y="308.10" width="11.33" height="1.95" fill="#482475"/>
<rect x="464.50" y="309.85" width="11.33" height="1.95" fill="#46307e"/>
<rect x="464.50" y="311.60" width="11.33" height="1.95" fill="#433e85"/>
<rect x="464.50" y="313.35" width="11.33" height="1.95" fill="#414487"/>
<rect x="464.50" y="315.10" width="11.33" height="1.95" fill="#3e4989"/>
<rect x="464.50" y="316.85" width="11.33" height="7.20" fill="#3c4f8a"/>
<rect x="464.50" y="323.85" width="11.33" height="1.95" fill="#3e4989"/>
<rect x="464.50" y="325.60" width="11.33" height="1.95" fill="#433e85"/>
<rect x="464.50" y="327.35" width="11.33" height="1.95" fill="#46307e"/>
<rect x="464.50" y="329.10" width="11.33" height="1.95" fill="#481d6f"/>
<rect x="464.50" y="330.85" width="11.33" height="1.95" fill="#46085c"/>
<rect x="464.50" y="372.85" width="11.33" height="1.95" fill="#471063"/>
<rect x="464.50" y="374.60" width="11.33" height="1.95" fill="#481d6f"/>
<rect x="464.50" y="376.35" width="11.33" height="1.95" fill="#482475"/>
<rect x="464.50" y="378.10" width="11.33" height="1.70" fill="#472a7a"/>
<rect x="475.53" y="365.85" width="11.33" height="1.95" fill="#46085c"/>
<rect x="475.53" y="367.60" width="11.33" height="1.95" fill="#482475"/>
<rect x="475.53" y="369.35" width="11.33" height="1.95" fill="#433e85"/>
<rect x="475.53" y="371.10" width="11.33" height="1.95" fill="#3e4989"/>
<rect x="475.53" y="372.85" width="11.33" height="1.95" fill="#375a8c"/>
<rect x="475.53" y="374.60" width="11.33" height="1.95" fill="#32648e"/>
<rect x="475.53" y="376.35" width="11.33" height="1.95" fill="#306a8e"/>
<rect x="475.53" y="378.10" width="11.33" height="1.70" fill="#2e6f8e"/>
<rect x="486.56" y="364.10" width="11.33" height="1.95" fill="#481769"/>
<rect x="486.56" y="365.85" width="11.33" height="1.95" fill="#453781"/>
<rect x="486.56" y="367.60" width="11.33" height="1.95" fill="#3c4f8a"/>
<rect x="486.56" y="369.35" width="11.33" height="1.95" fill="#355f8d"/>
<rect x="486.56" y="371.10" width="11.33" height="1.95" fill="#2e6f8e"/>
<rect x="486.56" y="372.85" width="11.33" height="1.95" fill="#2a788e"/>
<rect x="486.56" y="374.60" width="11.33" height="1.95" fill="#26828e"/>
<rect x="486.56" y="376.35" width="11.33" height="1.95" fill="#24868e"/>
<rect x="486.56" y="378.10" width="11.33" height="1.70" fill="#228b8d"/>
<rect x="497.59" y="364.10" width="11.33" height="1.95" fill="#472a7a"/>
<rect x="497.59" y="365.85" width="11.33" height="1.95" fill="#3e4989"/>
<rect x="497.59" y="367.60" width="11.33" height="1.95" fill="#355f8d"/>
<rect x="497.59" y="369.35" width="11.33" height="1.95" fill="#2c738e"/>
<rect x="497.59" y="371.10" width="11.33" height="1.95" fill="#26828e"/>
<rect x="497.59" y="372.85" width="11.33" height="1.95" fill="#228b8d"/>
<rect x="497.59" y="374.60" width="11.33" height="1.95" fill="#1f958b"/>
<rect x="497.59" y="376.35" width="11.33" height="1.95" fill="#1f9a8a"/>
<rect x="497.59" y="378.10" width="11.33" height="1.70" fill="#1f9f88"/>
<rect x="508.62" y="362.35" width="11.33" height="1.95" fill="#46085c"/>
<rect x="508.62" y="364.10" width="11.33" height="1.95" fill="#46307e"/>
<rect x="508.62" y="365.85" width="11.33" height="1.95" fill="#3a548c"/>
<rect x="508.62" y="367.60" width="11.33" height="1.95" fill="#306a8e"/>
<rect x="508.62" y="369.35" width="11.33" height="1.95" fill="#287d8e"/>
<rect x="508.62" y="371.10" width="11.33" height="1.95" fill="#228b8d"/>
<rect x="508.62" y="372.85" width="11.33" height="1.95" fill="#1f9a8a"/>
<rect x="508.62" y="374.60" width="11.33" height="1.95" fill="#1f9f88"/>
<rect x="508.62" y="376.35" width="11.33" height="1.95" fill="#22a884"/>
<rect x="508.62" y="378.10" width="11.33" height="1.70" fill="#26ad81"/>
<rect x="519.65" y="364.10" width="11.33" height="1.95" fill="#46307e"/>
<rect x="519.65" y="365.85" width="11.33" height="1.95" fill="#3a548c"/>
<rect x="519.65" y="367.60" width="11.33" height="1.95" fill="#2e6f8e"/>
<rect x="519.65" y="369.35" width="11.33" height="1.95" fill="#26828e"/>
<rect x="519.65" y="371.10" width="11.33" height="1.95" fill="#21918c"/>
<rect x="519.65" y="372.85" width="11.33" height="1.95" fill="#1f9f88"/>
<rect x="519.65" y="374.60" width="11.33" height="1.95" fill="#22a884"/>
<rect x="519.65" y="376.35" width="11.33" height="1.95" fill="#2cb17e"/>
<rect x="519.65" y="378.10" width="11.33" height="1.70" fill="#32b67a"/>
<rect x="530.68" y="364.10" width="11.33" height="1.95" fill="#471063"/>
<rect x="530.68" y="365.85" width="11.33" height="1.95" fill="#453781"/>
<rect x="530.68" y="367.60" width="11.33" height="1.95" fill="#375a8c"/>
<rect x="530.68" y="369.35" width="11.33" height="1.95" fill="#2e6f8e"/>
<rect x="530.68" y="371.10" width="11.33" height="1.95" fill="#26828e"/>
<rect x="530.68" y="372.85" width="11.33" height="1.95" fill="#228b8d"/>
<rect x="530.68" y="374.60" width="11.33" height="1.95" fill="#1f9a8a"/>
<rect x="530.68" y="376.35" width="11.33" height="1.95" fill="#1f9f88"/>
<rect x="530.68" y="378.10" width="11.33" height="1.70" fill="#22a884"/>
<rect x="541.71" y="365.85" width="11.33" height="1.95" fill="#46085c"/>
<rect x="541.71" y="367.60" width="11.33" height="1.95" fill="#472a7a"/>
<rect x="541.71" y="369.35" width="11.33" height="1.95" fill="#3e4989"/>
<rect x="541.71" y="371.10" width="11.33" height="1.95" fill="#355f8d"/>
<rect x="541.71" y="372.85" width="11.33" height="1.95" fill="#2e6f8e"/>
<rect x="541.71" y="374.60" width="11.33" height="1.95" fill="#2a788e"/>
<rect x="541.71" y="376.35" width="11.33" height="1.95" fill="#26828e"/>
<rect x="541.71" y="378.10" width="11.33" height="1.70" fill="#24868e"/>
<rect x="552.74" y="369.35" width="10.46" height="1.95" fill="#482475"/>
<rect x="552.74" y="371.10" width="10.46" height="1.95" fill="#433e85"/>
<rect x="552.74" y="372.85" width="10.46" height="1.95" fill="#3c4f8a"/>
<rect x="552.74" y="374.60" width="10.46" height="1.95" fill="#375a8c"/>
<rect x="552.74" y="376.35" width="10.46" height="1.95" fill="#32648e"/>
<rect x="552.74" y="378.10" width="10.46" height="1.70" fill="#306a8e"/>
</g>
<line x1="470.6" y1="28.1" x2="470.6" y2="379.6" stroke="#e41a1c" stroke-width="3.8" stroke-dasharray="13.8 6.1" stroke-dashoffset="17.6"/>
<rect x="95.0" y="28.1" width="467.90" height="351.50" fill="none" stroke="#000" stroke-width="1.9"/>
<g font-family='"DejaVu Sans","Liberation Sans",sans-serif' font-size="20.5" fill="#000">
<line x1="95.00" y1="379.6" x2="95.00" y2="386.6" stroke="#000" stroke-width="1.9"/>
<text x="95.00" y="404.5" text-anchor="middle">0.14</text>
<line x1="205.55" y1="379.6" x2="205.55" y2="386.6" stroke="#000" stroke-width="1.9"/>
<text x="205.55" y="404.5" text-anchor="middle">0.15</text>
<line x1="316.10" y1="379.6" x2="316.10" y2="386.6" stroke="#000" stroke-width="1.9"/>
<text x="316.10" y="404.5" text-anchor="middle">0.16</text>
<line x1="426.65" y1="379.6" x2="426.65" y2="386.6" stroke="#000" stroke-width="1.9"/>
<text x="426.65" y="404.5" text-anchor="middle">0.17</text>
<line x1="537.20" y1="379.6" x2="537.20" y2="386.6" stroke="#000" stroke-width="1.9"/>
<text x="537.20" y="404.5" text-anchor="middle">0.18</text>
<line x1="88.0" y1="28.10" x2="95.0" y2="28.10" stroke="#000" stroke-width="1.9"/>
<text x="86.0" y="36.00" text-anchor="end">1.0</text>
<line x1="88.0" y1="115.60" x2="95.0" y2="115.60" stroke="#000" stroke-width="1.9"/>
<text x="86.0" y="123.50" text-anchor="end">0.5</text>
<line x1="88.0" y1="203.10" x2="95.0" y2="203.10" stroke="#000" stroke-width="1.9"/>
<text x="86.0" y="211.00" text-anchor="end">0.0</text>
<line x1="88.0" y1="290.60" x2="95.0" y2="290.60" stroke="#000" stroke-width="1.9"/>
<text x="86.0" y="298.50" text-anchor="end">−0.5</text>
<line x1="88.0" y1="378.10" x2="95.0" y2="378.10" stroke="#000" stroke-width="1.9"/>
<text x="86.0" y="386.00" text-anchor="end">−1.0</text>
<line x1="95.00" y1="801.5" x2="95.00" y2="808.5" stroke="#000" stroke-width="1.9"/>
<text x="95.00" y="826.2" text-anchor="middle">−1.0</text>
<line x1="211.97" y1="801.5" x2="211.97" y2="808.5" stroke="#000" stroke-width="1.9"/>
<text x="211.97" y="826.2" text-anchor="middle">−0.5</text>
<line x1="328.95" y1="801.5" x2="328.95" y2="808.5" stroke="#000" stroke-width="1.9"/>
<text x="328.95" y="826.2" text-anchor="middle">0.0</text>
<line x1="445.92" y1="801.5" x2="445.92" y2="808.5" stroke="#000" stroke-width="1.9"/>
<text x="445.92" y="826.2" text-anchor="middle">0.5</text>
<line x1="562.90" y1="801.5" x2="562.90" y2="808.5" stroke="#000" stroke-width="1.9"/>
<text x="562.90" y="826.2" text-anchor="middle">1.0</text>
<line x1="88.0" y1="453.40" x2="95.0" y2="453.40" stroke="#000" stroke-width="1.9"/>
<text x="86.0" y="461.30" text-anchor="end">1.000</text>
<line x1="88.0" y1="523.00" x2="95.0" y2="523.00" stroke="#000" stroke-width="1.9"/>
<text x="86.0" y="530.90" text-anchor="end">0.998</text>
<line x1="88.0" y1="592.60" x2="95.0" y2="592.60" stroke="#000" stroke-width="1.9"/>
<text x="86.0" y="600.50" text-anchor="end">0.996</text>
<line x1="88.0" y1="662.20" x2="95.0" y2="662.20" stroke="#000" stroke-width="1.9"/>
<text x="86.0" y="670.10" text-anchor="end">0.994</text>
<line x1="88.0" y1="731.80" x2="95.0" y2="731.80" stroke="#000" stroke-width="1.9"/>
<text x="86.0" y="739.70" text-anchor="end">0.992</text>
<line x1="88.0" y1="801.40" x2="95.0" y2="801.40" stroke="#000" stroke-width="1.9"/>
<text x="86.0" y="809.30" text-anchor="end">0.990</text>
<line x1="555.9" y1="484.85" x2="562.9" y2="484.85" stroke="#000" stroke-width="1.9"/>
<text x="564.5" y="493.05">−1.8</text>
<line x1="555.9" y1="528.85" x2="562.9" y2="528.85" stroke="#000" stroke-width="1.9"/>
<text x="564.5" y="537.05">−2.0</text>
<line x1="555.9" y1="572.85" x2="562.9" y2="572.85" stroke="#000" stroke-width="1.9"/>
<text x="564.5" y="581.05">−2.2</text>
<line x1="555.9" y1="616.85" x2="562.9" y2="616.85" stroke="#000" stroke-width="1.9"/>
<text x="564.5" y="625.05">−2.4</text>
<line x1="555.9" y1="660.85" x2="562.9" y2="660.85" stroke="#000" stroke-width="1.9"/>
<text x="564.5" y="669.05">−2.6</text>
<line x1="555.9" y1="704.85" x2="562.9" y2="704.85" stroke="#000" stroke-width="1.9"/>
<text x="564.5" y="713.05">−2.8</text>
<line x1="555.9" y1="748.85" x2="562.9" y2="748.85" stroke="#000" stroke-width="1.9"/>
<text x="564.5" y="757.05">−3.0</text>
<line x1="555.9" y1="792.85" x2="562.9" y2="792.85" stroke="#000" stroke-width="1.9"/>
<text x="564.5" y="801.05">−3.2</text>
<text x="582.9" y="36.00" font-size="21">1.0000</text>
<text x="582.9" y="106.30" font-size="21">0.9998</text>
<text x="582.9" y="176.60" font-size="21">0.9996</text>
<text x="582.9" y="246.90" font-size="21">0.9994</text>
<text x="582.9" y="317.20" font-size="21">0.9992</text>
<text x="582.9" y="387.50" font-size="21">0.9990</text>
</g>
<defs><linearGradient id="vg" x1="0" y1="0" x2="0" y2="1"><stop offset="0.00" stop-color="#fde725"/><stop offset="0.05" stop-color="#dfe318"/><stop offset="0.10" stop-color="#bddf26"/><stop offset="0.15" stop-color="#9bd93c"/><stop offset="0.20" stop-color="#7ad151"/><stop offset="0.25" stop-color="#5ec962"/><stop offset="0.30" stop-color="#44bf70"/><stop offset="0.35" stop-color="#2fb47c"/><stop offset="0.40" stop-color="#22a884"/><stop offset="0.45" stop-color="#1e9c89"/><stop offset="0.50" stop-color="#21918c"/><stop offset="0.55" stop-color="#25848e"/><stop offset="0.60" stop-color="#2a788e"/><stop offset="0.65" stop-color="#2f6c8e"/><stop offset="0.70" stop-color="#355f8d"/><stop offset="0.75" stop-color="#3b528b"/><stop offset="0.80" stop-color="#414487"/><stop offset="0.85" stop-color="#463480"/><stop offset="0.90" stop-color="#482475"/><stop offset="0.95" stop-color="#471365"/><stop offset="1.00" stop-color="#440154"/></linearGradient></defs>
<rect x="568.3" y="28.1" width="12.70" height="351.50" fill="url(#vg)" stroke="#000" stroke-width="1.3"/>
<line x1="576.0" y1="28.10" x2="581.0" y2="28.10" stroke="#000" stroke-width="1.9"/>
<line x1="578.2" y1="45.67" x2="581.0" y2="45.67" stroke="#000" stroke-width="1.2"/>
<line x1="578.2" y1="63.25" x2="581.0" y2="63.25" stroke="#000" stroke-width="1.2"/>
<line x1="578.2" y1="80.83" x2="581.0" y2="80.83" stroke="#000" stroke-width="1.2"/>
<line x1="576.0" y1="98.40" x2="581.0" y2="98.40" stroke="#000" stroke-width="1.9"/>
<line x1="578.2" y1="115.97" x2="581.0" y2="115.97" stroke="#000" stroke-width="1.2"/>
<line x1="578.2" y1="133.55" x2="581.0" y2="133.55" stroke="#000" stroke-width="1.2"/>
<line x1="578.2" y1="151.12" x2="581.0" y2="151.12" stroke="#000" stroke-width="1.2"/>
<line x1="576.0" y1="168.70" x2="581.0" y2="168.70" stroke="#000" stroke-width="1.9"/>
<line x1="578.2" y1="186.28" x2="581.0" y2="186.28" stroke="#000" stroke-width="1.2"/>
<line x1="578.2" y1="203.85" x2="581.0" y2="203.85" stroke="#000" stroke-width="1.2"/>
<line x1="578.2" y1="221.42" x2="581.0" y2="221.42" stroke="#000" stroke-width="1.2"/>
<line x1="576.0" y1="239.00" x2="581.0" y2="239.00" stroke="#000" stroke-width="1.9"/>
<line x1="578.2" y1="256.57" x2="581.0" y2="256.57" stroke="#000" stroke-width="1.2"/>
<line x1="578.2" y1="274.15" x2="581.0" y2="274.15" stroke="#000" stroke-width="1.2"/>
<line x1="578.2" y1="291.73" x2="581.0" y2="291.73" stroke="#000" stroke-width="1.2"/>
<line x1="576.0" y1="309.30" x2="581.0" y2="309.30" stroke="#000" stroke-width="1.9"/>
<line x1="578.2" y1="326.88" x2="581.0" y2="326.88" stroke="#000" stroke-width="1.2"/>
<line x1="578.2" y1="344.45" x2="581.0" y2="344.45" stroke="#000" stroke-width="1.2"/>
<line x1="578.2" y1="362.03" x2="581.0" y2="362.03" stroke="#000" stroke-width="1.2"/>
<line x1="576.0" y1="379.60" x2="581.0" y2="379.60" stroke="#000" stroke-width="1.9"/>
<text transform="translate(567,22.5) scale(1.14,1.03)" font-family='"Liberation Serif","DejaVu Serif",serif' font-style="italic" font-size="28">F</text>
<g font-family='"DejaVu Sans","Liberation Sans",sans-serif' fill="#000">
<text x="105.3" y="60" font-size="28" fill="#fff">(a)</text>
<text x="105.3" y="482" font-size="28">(b)</text>
<text x="310.0" y="425.6" font-size="19.4">Ω<tspan dx="0.8">/</tspan><tspan dx="0.8" font-style="italic">B</tspan></text>
<text x="307.0" y="848.4" font-size="19.4" font-style="italic">δ<tspan font-size="13.6" dy="3.1" dx="0.4">p</tspan><tspan dy="-3.1" dx="0.6">/</tspan><tspan dx="0.8">B</tspan></text>
<text transform="translate(26.6,204.8) rotate(-90)" text-anchor="middle" font-size="19.4" font-style="italic">δ<tspan font-size="13.6" dy="3.1" dx="0.4">p</tspan><tspan dy="-3.1" dx="0.6">/</tspan><tspan dx="0.8">B</tspan></text>
<text transform="translate(20.5,625.2) rotate(-90)" text-anchor="middle" font-size="21">Population</text>
<text transform="translate(634.0,626.5) rotate(-90)" text-anchor="middle" font-size="21">Phase accumulated</text>
</g>
<g font-family='"Liberation Serif","DejaVu Serif",serif' fill="#e41a1c">
<text transform="translate(477.3,139.4) scale(1.14,1)" font-style="italic" font-size="29">F</text>
<text x="494.9" y="143.9" font-size="18">Ω</text>
<text x="508.9" y="148.2" font-size="28">/</text>
<text transform="translate(518.9,143.9) scale(1.15,1)" font-style="italic" font-size="19">B</text>
</g>
<g font-family='"Liberation Serif","DejaVu Serif",serif' fill="#e41a1c">
<text transform="translate(283.7,632.1) scale(1.14,1)" font-style="italic" font-size="29">F</text>
<text x="301.3" y="636.6" font-size="18">Ω</text>
<text x="315.3" y="640.9" font-size="28">/</text>
<text transform="translate(325.3,636.6) scale(1.15,1)" font-style="italic" font-size="19">B</text>
</g>
<g font-family='"Liberation Serif","DejaVu Serif",serif' fill="#000"><text transform="translate(377.2,767.3) scale(1.25,1)" font-size="28">−</text><text x="398.5" y="767.3" font-style="italic" font-size="29">π</text></g>
<clipPath id="cb"><rect x="95.0" y="449.9" width="467.90" height="351.60"/></clipPath>
<g clip-path="url(#cb)" fill="none">
<line x1="95.0" y1="779.3" x2="562.9" y2="779.3" stroke="#808080" stroke-width="3.9" stroke-dasharray="13.9 6.0" stroke-dashoffset="2.6"/>
<path d="M95.3,786.8 L103.2,784.5 L111.2,782.2 L119.1,779.8 L127.0,777.5 L135.0,775.2 L142.9,772.8 L150.8,770.5 L158.8,768.1 L166.7,765.8 L174.7,763.6 L182.6,761.3 L190.5,759.1 L198.5,756.9 L206.4,754.8 L214.3,752.7 L222.3,750.6 L230.2,748.5 L238.1,746.4 L246.1,744.4 L254.0,742.3 L261.9,740.3 L269.9,738.2 L277.8,736.1 L285.8,734.0 L293.7,731.9 L301.6,729.8 L309.6,727.6 L317.5,725.4 L325.4,723.3 L333.4,721.0 L341.3,718.7 L349.2,716.3 L357.2,713.7 L365.1,710.9 L373.0,708.0 L381.0,705.1 L388.9,702.2 L396.9,699.6 L404.8,697.0 L412.7,694.4 L420.7,691.9 L428.6,689.3 L436.5,686.7 L444.5,684.1 L452.4,681.5 L460.3,678.8 L468.3,676.1 L476.2,673.3 L484.1,670.3 L492.1,667.0 L500.0,663.6 L508.0,660.1 L515.9,656.5 L523.8,652.9 L531.8,649.4 L539.7,645.8 L547.6,642.3 L555.6,638.7 L563.5,635.2" stroke="#808080" stroke-width="4.1" stroke-dasharray="4.1 8.3"/>
<path d="M95.3,480.9 L96.5,481.9 L97.6,482.8 L98.8,483.8 L100.0,484.7 L101.2,485.6 L102.3,486.6 L103.5,487.5 L104.7,488.3 L105.9,489.2 L107.0,490.0 L108.2,490.8 L109.4,491.6 L110.6,492.3 L111.7,493.0 L112.9,493.6 L114.1,494.1 L115.3,494.7 L116.4,495.1 L117.6,495.5 L118.8,495.9 L120.0,496.2 L121.1,496.5 L122.3,496.8 L123.5,497.0 L124.7,497.2 L125.8,497.4 L127.0,497.5 L128.2,497.6 L129.4,497.7 L130.5,497.7 L131.7,497.7 L132.9,497.6 L134.1,497.4 L135.2,497.2 L136.4,496.9 L137.6,496.6 L138.8,496.3 L139.9,495.9 L141.1,495.5 L142.3,495.1 L143.4,494.6 L144.6,494.2 L145.8,493.7 L147.0,493.2 L148.1,492.7 L149.3,492.2 L150.5,491.7 L151.7,491.2 L152.8,490.6 L154.0,490.1 L155.2,489.5 L156.4,489.0 L157.5,488.5 L158.7,487.9 L159.9,487.4 L161.1,486.9 L162.2,486.4 L163.4,485.9 L164.6,485.5 L165.8,485.1 L166.9,484.7 L168.1,484.4 L169.3,484.1 L170.5,483.8 L171.6,483.6 L172.8,483.5 L174.0,483.4 L175.2,483.3 L176.3,483.3 L177.5,483.3 L178.7,483.4 L179.9,483.6 L181.0,483.8 L182.2,484.2 L183.4,484.5 L184.6,485.0 L185.7,485.6 L186.9,486.3 L188.1,487.0 L189.2,487.8 L190.4,488.7 L191.6,489.6 L192.8,490.6 L193.9,491.7 L195.1,492.8 L196.3,493.9 L197.5,495.1 L198.6,496.3 L199.8,497.6 L201.0,498.9 L202.2,500.3 L203.3,501.7 L204.5,503.1 L205.7,504.6 L206.9,506.1 L208.0,507.6 L209.2,509.1 L210.4,510.6 L211.6,512.2 L212.7,513.7 L213.9,515.2 L215.1,516.7 L216.3,518.3 L217.4,519.9 L218.6,521.5 L219.8,523.2 L221.0,524.9 L222.1,526.7 L223.3,528.6 L224.5,530.5 L225.7,532.5 L226.8,534.4 L228.0,536.4 L229.2,538.4 L230.4,540.4 L231.5,542.3 L232.7,544.3 L233.9,546.2 L235.1,548.2 L236.2,550.2 L237.4,552.3 L238.6,554.4 L239.7,556.6 L240.9,558.9 L242.1,561.4 L243.3,563.9 L244.4,566.6 L245.6,569.3 L246.8,572.2 L248.0,575.2 L249.1,578.3 L250.3,581.5 L251.5,584.7 L252.7,587.9 L253.8,591.1 L255.0,594.3 L256.2,597.4 L257.4,600.5 L258.5,603.6 L259.7,606.7 L260.9,609.8 L262.1,613.0 L263.2,616.3 L264.4,619.6 L265.6,622.8 L266.8,625.9 L267.9,628.9 L269.1,631.7 L270.3,634.3 L271.5,636.7 L272.6,639.2 L273.8,641.9 L275.0,644.7 L276.2,647.8 L277.3,651.1 L278.5,654.6 L279.7,658.2 L280.9,661.9 L282.0,665.8 L283.2,669.7 L284.4,673.7 L285.5,677.7 L286.7,681.8 L287.9,685.9 L289.1,690.1 L290.2,694.2 L291.4,698.4 L292.6,702.5 L293.8,706.6 L294.9,710.7 L296.1,714.8 L297.3,718.8 L298.5,722.8 L299.6,726.7 L300.8,730.6 L302.0,734.4 L303.2,738.2 L304.3,741.8 L305.5,745.4 L306.7,749.0 L307.9,752.5 L309.0,755.8 L310.2,759.1 L311.4,762.4 L312.6,765.6 L313.7,768.8 L314.9,772.0 L316.1,775.3 L317.3,778.5 L318.4,781.9 L319.6,785.3 L320.8,788.8 L322.0,792.3 L323.1,795.7 L324.3,799.2 L325.5,802.6 L326.7,805.8 L327.8,809.0 L329.0,812.0" stroke="#e41a1c" stroke-width="3.8" stroke-dasharray="13.9 6.0" stroke-linejoin="round"/>
<path d="M95.3,536.6 L96.2,540.2 L97.2,543.9 L98.1,547.5 L99.1,551.2 L100.0,554.8 L100.9,558.4 L101.9,562.0 L102.8,565.7 L103.7,569.3 L104.7,572.9 L105.6,576.4 L106.6,580.0 L107.5,583.5 L108.4,587.0 L109.4,590.5 L110.3,593.9 L111.3,597.3 L112.2,600.6 L113.1,603.7 L114.1,606.7 L115.0,609.5 L115.9,612.1 L116.9,614.6 L117.8,616.7 L118.8,618.7 L119.7,620.5 L120.6,622.1 L121.6,623.5 L122.5,624.8 L123.4,625.9 L124.4,626.8 L125.3,627.6 L126.3,628.1 L127.2,628.5 L128.1,628.8 L129.1,628.8 L130.0,628.6 L131.0,628.3 L131.9,627.8 L132.8,627.1 L133.8,626.3 L134.7,625.3 L135.6,624.1 L136.6,622.7 L137.5,621.3 L138.5,619.6 L139.4,617.9 L140.3,616.0 L141.3,614.0 L142.2,611.8 L143.2,609.5 L144.1,607.1 L145.0,604.6 L146.0,601.9 L146.9,599.2 L147.8,596.3 L148.8,593.2 L149.7,590.1 L150.7,586.8 L151.6,583.4 L152.5,579.9 L153.5,576.2 L154.4,572.5 L155.3,568.7 L156.3,564.7 L157.2,560.7 L158.2,556.6 L159.1,552.4 L160.0,548.3 L161.0,544.2 L161.9,540.2 L162.9,536.4 L163.8,532.7 L164.7,529.1 L165.7,525.6 L166.6,522.2 L167.5,518.9 L168.5,515.7 L169.4,512.5 L170.4,509.3 L171.3,506.1 L172.2,502.9 L173.2,499.8 L174.1,496.8 L175.1,493.8 L176.0,491.0 L176.9,488.3 L177.9,485.8 L178.8,483.4 L179.7,481.2 L180.7,479.2 L181.6,477.4 L182.6,475.7 L183.5,474.3 L184.4,473.1 L185.4,472.0 L186.3,471.1 L187.3,470.3 L188.2,469.6 L189.1,469.0 L190.1,468.5 L191.0,468.1 L191.9,467.8 L192.9,467.5 L193.8,467.3 L194.8,467.2 L195.7,467.1 L196.6,467.1 L197.6,467.1 L198.5,467.2 L199.4,467.4 L200.4,467.6 L201.3,467.8 L202.3,468.0 L203.2,468.2 L204.1,468.4 L205.1,468.6 L206.0,468.7 L207.0,468.8 L207.9,468.8 L208.8,468.8 L209.8,468.7 L210.7,468.6 L211.6,468.4 L212.6,468.2 L213.5,467.9 L214.5,467.5 L215.4,467.2 L216.3,466.8 L217.3,466.3 L218.2,465.8 L219.2,465.3 L220.1,464.8 L221.0,464.3 L222.0,463.7 L222.9,463.2 L223.8,462.6 L224.8,462.1 L225.7,461.5 L226.7,461.0 L227.6,460.5 L228.5,460.0 L229.5,459.6 L230.4,459.1 L231.4,458.7 L232.3,458.3 L233.2,457.9 L234.2,457.6 L235.1,457.2 L236.0,456.9 L237.0,456.7 L237.9,456.4 L238.9,456.2 L239.8,456.0 L240.7,455.8 L241.7,455.7 L242.6,455.5 L243.5,455.4 L244.5,455.3 L245.4,455.2 L246.4,455.1 L247.3,455.0 L248.2,455.0 L249.2,455.0 L250.1,455.0 L251.1,455.1 L252.0,455.3 L252.9,455.5 L253.9,455.8 L254.8,456.1 L255.7,456.5 L256.7,456.9 L257.6,457.4 L258.6,458.0 L259.5,458.7 L260.4,459.4 L261.4,460.2 L262.3,461.1 L263.3,462.1 L264.2,463.2 L265.1,464.4 L266.1,465.7 L267.0,467.1 L267.9,468.7 L268.9,470.3 L269.8,472.0 L270.8,473.8 L271.7,475.7 L272.6,477.7 L273.6,479.7 L274.5,481.9 L275.4,484.1 L276.4,486.3 L277.3,488.6 L278.3,490.9 L279.2,493.3 L280.1,495.7 L281.1,498.1 L282.0,500.5 L283.0,502.9 L283.9,505.3 L284.8,507.6 L285.8,509.9 L286.7,512.2 L287.6,514.4 L288.6,516.5 L289.5,518.6 L290.5,520.6 L291.4,522.5 L292.3,524.4 L293.3,526.2 L294.2,527.9 L295.2,529.5 L296.1,531.1 L297.0,532.5 L298.0,533.8 L298.9,534.9 L299.8,535.8 L300.8,536.6 L301.7,537.1 L302.7,537.5 L303.6,537.7 L304.5,537.8 L305.5,537.7 L306.4,537.4 L307.4,536.9 L308.3,536.2 L309.2,535.3 L310.2,534.0 L311.1,532.5 L312.0,530.8 L313.0,528.9 L313.9,526.9 L314.9,524.6 L315.8,522.3 L316.7,519.8 L317.7,517.3 L318.6,514.6 L319.5,511.8 L320.5,509.0 L321.4,506.1 L322.4,503.1 L323.3,500.1 L324.2,497.1 L325.2,494.1 L326.1,491.1 L327.1,488.2 L328.0,485.3 L328.9,482.5 L329.9,479.7 L330.8,477.1 L331.7,474.5 L332.7,472.1 L333.6,469.7 L334.6,467.4 L335.5,465.3 L336.4,463.3 L337.4,461.5 L338.3,459.9 L339.3,458.5 L340.2,457.3 L341.1,456.4 L342.1,455.6 L343.0,455.1 L343.9,454.6 L344.9,454.3 L345.8,454.1 L346.8,454.0 L347.7,454.0 L348.6,454.1 L349.6,454.2 L350.5,454.4 L351.4,454.7 L352.4,455.0 L353.3,455.3 L354.3,455.7 L355.2,456.1 L356.1,456.5 L357.1,456.9 L358.0,457.3 L359.0,457.7 L359.9,458.0 L360.8,458.2 L361.8,458.5 L362.7,458.6 L363.6,458.8 L364.6,458.8 L365.5,458.8 L366.5,458.7 L367.4,458.5 L368.3,458.3 L369.3,458.1 L370.2,457.8 L371.2,457.5 L372.1,457.1 L373.0,456.7 L374.0,456.3 L374.9,455.9 L375.8,455.6 L376.8,455.2 L377.7,454.9 L378.7,454.6 L379.6,454.4 L380.5,454.2 L381.5,454.1 L382.4,454.1 L383.4,454.3 L384.3,454.5 L385.2,454.9 L386.2,455.5 L387.1,456.3 L388.0,457.2 L389.0,458.4 L389.9,459.7 L390.9,461.3 L391.8,463.1 L392.7,465.1 L393.7,467.4 L394.6,470.1 L395.5,473.2 L396.5,476.9 L397.4,481.0 L398.4,485.5 L399.3,490.2 L400.2,494.9 L401.2,499.5 L402.1,504.2 L403.1,508.8 L404.0,513.5 L404.9,518.3 L405.9,523.2 L406.8,528.2 L407.7,533.3 L408.7,538.6 L409.6,543.8 L410.6,549.0 L411.5,554.3 L412.4,559.5 L413.4,564.6 L414.3,569.8 L415.3,575.0 L416.2,580.1 L417.1,585.3 L418.1,590.5 L419.0,595.7 L419.9,600.9 L420.9,606.1 L421.8,611.2 L422.8,616.2 L423.7,621.1 L424.6,626.0 L425.6,630.7 L426.5,635.2 L427.4,639.6 L428.4,643.8 L429.3,647.8 L430.3,651.5 L431.2,655.0 L432.1,658.2 L433.1,661.1 L434.0,663.7 L435.0,665.9 L435.9,667.9 L436.8,669.5 L437.8,670.8 L438.7,671.8 L439.6,672.4 L440.6,672.6 L441.5,672.2 L442.5,671.4 L443.4,670.0 L444.3,668.2 L445.3,666.0 L446.2,663.4 L447.2,660.4 L448.1,657.0 L449.0,653.4 L450.0,649.4 L450.9,645.2 L451.8,640.7 L452.8,636.0 L453.7,631.3 L454.7,626.4 L455.6,621.4 L456.5,616.4 L457.5,611.2 L458.4,606.0 L459.4,600.7 L460.3,595.3 L461.2,589.8 L462.2,584.2 L463.1,578.5 L464.0,572.8 L465.0,567.1 L465.9,561.4 L466.9,555.7 L467.8,550.0 L468.7,544.4 L469.7,538.7 L470.6,533.2 L471.5,527.6 L472.5,522.2 L473.4,516.8 L474.4,511.5 L475.3,506.4 L476.2,501.6 L477.2,497.0 L478.1,492.6 L479.1,488.5 L480.0,484.7 L480.9,481.2 L481.9,477.9 L482.8,474.8 L483.7,472.0 L484.7,469.5 L485.6,467.2 L486.6,465.1 L487.5,463.4 L488.4,461.9 L489.4,460.7 L490.3,459.7 L491.3,458.9 L492.2,458.3 L493.1,457.8 L494.1,457.5 L495.0,457.1 L495.9,456.9 L496.9,456.8 L497.8,456.8 L498.8,456.9 L499.7,457.2 L500.6,457.6 L501.6,458.1 L502.5,458.8 L503.5,459.6 L504.4,460.5 L505.3,461.5 L506.3,462.5 L507.2,463.6 L508.1,464.8 L509.1,466.0 L510.0,467.2 L511.0,468.3 L511.9,469.5 L512.8,470.6 L513.8,471.7 L514.7,472.8 L515.6,473.8 L516.6,474.8 L517.5,475.7 L518.5,476.5 L519.4,477.2 L520.3,477.9 L521.3,478.5 L522.2,479.0 L523.2,479.5 L524.1,479.8 L525.0,480.1 L526.0,480.4 L526.9,480.5 L527.8,480.6 L528.8,480.6 L529.7,480.6 L530.7,480.5 L531.6,480.3 L532.5,480.0 L533.5,479.7 L534.4,479.3 L535.4,478.9 L536.3,478.3 L537.2,477.7 L538.2,476.9 L539.1,476.2 L540.0,475.4 L541.0,474.6 L541.9,473.8 L542.9,473.0 L543.8,472.2 L544.7,471.4 L545.7,470.6 L546.6,469.9 L547.5,469.2 L548.5,468.4 L549.4,467.7 L550.4,466.9 L551.3,466.2 L552.2,465.5 L553.2,464.9 L554.1,464.4 L555.1,464.1 L556.0,463.9 L556.9,464.0 L557.9,464.2 L558.8,464.5 L559.7,465.0 L560.7,465.5 L561.6,466.2 L562.6,466.9 L563.5,467.6" stroke="#100cee" stroke-width="3.9" stroke-linejoin="round"/>
</g>
<rect x="95.0" y="449.9" width="467.90" height="351.60" fill="none" stroke="#000" stroke-width="1.9"/>
<g shape-rendering="crispEdges"><rect x="0" y="0" width="1" height="856" fill="#c6c6ce"/>
<rect x="1" y="0" width="1" height="856" fill="#aaaab2"/>
<rect x="2" y="0" width="1" height="856" fill="#f6f6f8"/>
<rect x="659" y="0" width="1" height="856" fill="#a5a5a8"/><rect x="658" y="0" width="1" height="856" fill="#f4f4f5"/></g></svg></body></html>
